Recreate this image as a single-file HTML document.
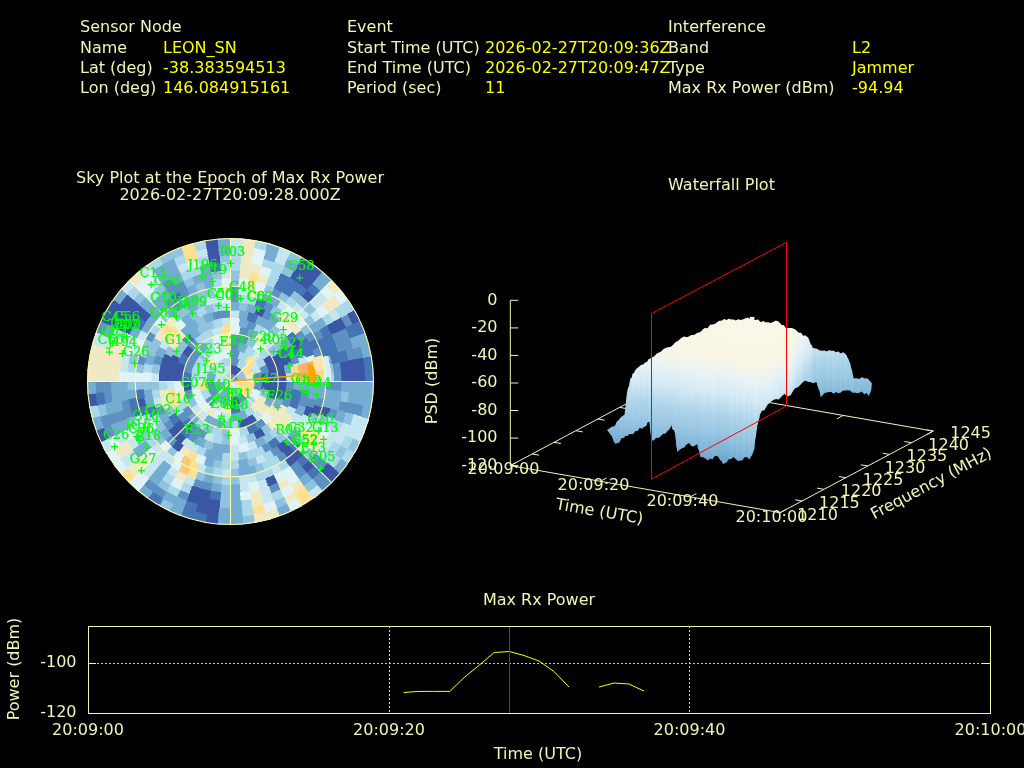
<!DOCTYPE html>
<html><head><meta charset="utf-8"><title>Interference Event</title>
<style>
html,body{margin:0;padding:0;background:#000;overflow:hidden}
svg{display:block;will-change:transform}
text{font-family:"DejaVu Sans","Liberation Sans",sans-serif;font-size:16px;fill:#f4f4b2}
.y{fill:#ffff00}
.s{font-family:"DejaVu Serif","Liberation Serif",serif;font-size:12px;fill:#00ff00;stroke:#00ff00;stroke-width:0.2px}
.ln{stroke:#f4f4b2;stroke-width:1;fill:none;shape-rendering:crispEdges}
.la{stroke:#f4f4b2;stroke-width:1;fill:none}
</style></head><body>
<svg width="1024" height="768" viewBox="0 0 1024 768">
<rect width="1024" height="768" fill="#000"/>

<g id="header">
<text x="80" y="32">Sensor Node</text>
<text class="y" x="163" y="53">LEON_SN</text>
<text x="80" y="53">Name</text>
<text class="y" x="163" y="73">-38.383594513</text>
<text x="80" y="73">Lat (deg)</text>
<text class="y" x="163" y="93">146.084915161</text>
<text x="80" y="93">Lon (deg)</text>
<text x="347" y="32">Event</text>
<text class="y" x="485" y="53">2026-02-27T20:09:36Z</text>
<text x="347" y="53">Start Time (UTC)</text>
<text class="y" x="485" y="73">2026-02-27T20:09:47Z</text>
<text x="347" y="73">End Time (UTC)</text>
<text class="y" x="485" y="93">11</text>
<text x="347" y="93">Period (sec)</text>
<text x="668" y="32">Interference</text>
<text class="y" x="852" y="53">L2</text>
<text x="668" y="53">Band</text>
<text class="y" x="852" y="73">Jammer</text>
<text x="668" y="73">Type</text>
<text class="y" x="852" y="93">-94.94</text>
<text x="668" y="93">Max Rx Power (dBm)</text>
</g>
<g id="sky">
<text x="230" y="183" text-anchor="middle">Sky Plot at the Epoch of Max Rx Power</text>
<text x="230" y="200" text-anchor="middle">2026-02-27T20:09:28.000Z</text>
<g shape-rendering="crispEdges">
<path fill="#5c91c2" stroke="#5c91c2" stroke-width="0.6" d="M230.5 381.5L230.5 373.6A7.9 7.9 0 0 1 238.4 381.5ZM230.5 365.6L230.5 357.7A23.8 23.8 0 0 1 239.6 359.5L236.6 366.8A15.9 15.9 0 0 0 230.5 365.6ZM241.7 392.7L247.4 398.4A23.8 23.8 0 0 1 239.6 403.5L236.6 396.2A15.9 15.9 0 0 0 241.7 392.7ZM219.3 392.7L213.6 398.4A23.8 23.8 0 0 1 208.5 390.6L215.8 387.6A15.9 15.9 0 0 0 219.3 392.7ZM215.8 387.6L208.5 390.6A23.8 23.8 0 0 1 206.7 381.5L214.6 381.5A15.9 15.9 0 0 0 215.8 387.6ZM230.5 357.7L230.5 349.7A31.8 31.8 0 0 1 240.3 351.3L237.9 358.8A23.8 23.8 0 0 0 230.5 357.7ZM253.2 374.1L260.7 371.7A31.8 31.8 0 0 1 262.3 381.5L254.3 381.5A23.8 23.8 0 0 0 253.2 374.1ZM254.3 381.5L262.3 381.5A31.8 31.8 0 0 1 260.7 391.3L253.2 388.9A23.8 23.8 0 0 0 254.3 381.5ZM216.5 400.8L211.8 407.2A31.8 31.8 0 0 1 204.8 400.2L211.2 395.5A23.8 23.8 0 0 0 216.5 400.8ZM230.5 349.7L230.5 341.8A39.7 39.7 0 0 1 239.3 342.8L237.6 350.5A31.8 31.8 0 0 0 230.5 349.7ZM259.1 367.7L266.3 364.3A39.7 39.7 0 0 1 269.2 372.7L261.5 374.4A31.8 31.8 0 0 0 259.1 367.7ZM230.5 341.8L230.5 333.8A47.7 47.7 0 0 1 239.8 334.7L238.2 342.5A39.7 39.7 0 0 0 230.5 341.8ZM238.2 342.5L239.8 334.7A47.7 47.7 0 0 1 248.7 337.5L245.7 344.8A39.7 39.7 0 0 0 238.2 342.5ZM193.8 396.7L186.5 399.7A47.7 47.7 0 0 1 183.7 390.8L191.5 389.2A39.7 39.7 0 0 0 193.8 396.7ZM191.5 373.8L183.7 372.2A47.7 47.7 0 0 1 186.5 363.3L193.8 366.3A39.7 39.7 0 0 0 191.5 373.8ZM193.8 366.3L186.5 363.3A47.7 47.7 0 0 1 190.9 355.0L197.5 359.4A39.7 39.7 0 0 0 193.8 366.3ZM197.5 359.4L190.9 355.0A47.7 47.7 0 0 1 196.8 347.8L202.4 353.4A39.7 39.7 0 0 0 197.5 359.4ZM238.8 334.6L240.2 326.7A55.6 55.6 0 0 1 249.5 329.2L246.8 336.7A47.7 47.7 0 0 0 238.8 334.6ZM261.1 418.0L266.2 424.1A55.6 55.6 0 0 1 258.3 429.7L254.3 422.8A47.7 47.7 0 0 0 261.1 418.0ZM194.0 412.1L187.9 417.2A55.6 55.6 0 0 1 182.3 409.3L189.2 405.3A47.7 47.7 0 0 0 194.0 412.1ZM194.0 350.9L187.9 345.8A55.6 55.6 0 0 1 194.8 338.9L199.9 345.0A47.7 47.7 0 0 0 194.0 350.9ZM246.2 328.1L248.4 320.5A63.6 63.6 0 0 1 256.9 323.7L253.6 330.9A55.6 55.6 0 0 0 246.2 328.1ZM286.1 381.5L294.1 381.5A63.6 63.6 0 0 1 293.4 390.5L285.5 389.4A55.6 55.6 0 0 0 286.1 381.5ZM283.9 397.2L291.5 399.4A63.6 63.6 0 0 1 288.3 407.9L281.1 404.6A55.6 55.6 0 0 0 283.9 397.2ZM207.4 432.1L204.1 439.3A63.6 63.6 0 0 1 196.1 435.0L200.4 428.3A55.6 55.6 0 0 0 207.4 432.1ZM200.4 428.3L196.1 435.0A63.6 63.6 0 0 1 188.9 429.5L194.1 423.5A55.6 55.6 0 0 0 200.4 428.3ZM188.5 417.9L182.5 423.1A63.6 63.6 0 0 1 177.0 415.9L183.7 411.6A55.6 55.6 0 0 0 188.5 417.9ZM289.2 357.2L296.6 354.1A71.5 71.5 0 0 1 299.6 363.0L291.9 365.1A63.6 63.6 0 0 0 289.2 357.2ZM198.7 436.5L194.8 443.4A71.5 71.5 0 0 1 187.0 438.2L191.8 431.9A63.6 63.6 0 0 0 198.7 436.5ZM214.1 320.1L212.0 312.4A71.5 71.5 0 0 1 221.2 310.6L222.2 318.5A63.6 63.6 0 0 0 214.1 320.1ZM222.2 318.5L221.2 310.6A71.5 71.5 0 0 1 230.5 310.0L230.5 317.9A63.6 63.6 0 0 0 222.2 318.5ZM261.5 317.1L265.0 309.9A79.4 79.4 0 0 1 272.8 314.2L268.5 321.0A71.5 71.5 0 0 0 261.5 317.1ZM301.6 389.5L309.4 390.4A79.4 79.4 0 0 1 308.0 399.2L300.2 397.4A71.5 71.5 0 0 0 301.6 389.5ZM300.2 397.4L308.0 399.2A79.4 79.4 0 0 1 305.5 407.7L298.0 405.1A71.5 71.5 0 0 0 300.2 397.4ZM268.5 442.0L272.8 448.8A79.4 79.4 0 0 1 265.0 453.1L261.5 445.9A71.5 71.5 0 0 0 268.5 442.0ZM174.6 426.1L168.4 431.0A79.4 79.4 0 0 1 163.2 423.8L170.0 419.5A71.5 71.5 0 0 0 174.6 426.1ZM166.1 412.5L158.9 416.0A79.4 79.4 0 0 1 155.5 407.7L163.0 405.1A71.5 71.5 0 0 0 166.1 412.5ZM160.8 365.6L153.0 363.8A79.4 79.4 0 0 1 155.5 355.3L163.0 357.9A71.5 71.5 0 0 0 160.8 365.6ZM230.5 302.1L230.5 294.1A87.4 87.4 0 0 1 239.6 294.6L238.8 302.5A79.4 79.4 0 0 0 230.5 302.1ZM262.8 308.9L266.0 301.7A87.4 87.4 0 0 1 274.2 305.8L270.2 312.7A79.4 79.4 0 0 0 262.8 308.9ZM294.8 334.8L301.2 330.1A87.4 87.4 0 0 1 306.2 337.8L299.3 341.8A79.4 79.4 0 0 0 294.8 334.8ZM308.2 398.0L316.0 399.7A87.4 87.4 0 0 1 313.6 408.5L306.1 406.0A79.4 79.4 0 0 0 308.2 398.0ZM289.5 434.7L295.4 440.0A87.4 87.4 0 0 1 289.0 446.4L283.7 440.5A79.4 79.4 0 0 0 289.5 434.7ZM277.2 445.8L281.9 452.2A87.4 87.4 0 0 1 274.2 457.2L270.2 450.3A79.4 79.4 0 0 0 277.2 445.8ZM177.3 440.5L172.0 446.4A87.4 87.4 0 0 1 165.6 440.0L171.5 434.7A79.4 79.4 0 0 0 177.3 440.5ZM230.5 294.1L230.5 286.2A95.3 95.3 0 0 1 239.3 286.6L238.6 294.5A87.4 87.4 0 0 0 230.5 294.1ZM304.8 335.5L311.6 331.3A95.3 95.3 0 0 1 315.8 339.0L308.7 342.5A87.4 87.4 0 0 0 304.8 335.5ZM312.0 349.9L319.4 347.1A95.3 95.3 0 0 1 322.2 355.4L314.6 357.6A87.4 87.4 0 0 0 312.0 349.9ZM316.4 397.6L324.2 399.0A95.3 95.3 0 0 1 322.2 407.6L314.6 405.4A87.4 87.4 0 0 0 316.4 397.6ZM283.2 451.2L288.0 457.6A95.3 95.3 0 0 1 280.7 462.6L276.5 455.8A87.4 87.4 0 0 0 283.2 451.2ZM144.6 365.4L136.8 364.0A95.3 95.3 0 0 1 138.8 355.4L146.4 357.6A87.4 87.4 0 0 0 144.6 365.4ZM152.3 342.5L145.2 339.0A95.3 95.3 0 0 1 149.4 331.3L156.2 335.5A87.4 87.4 0 0 0 152.3 342.5ZM177.8 311.8L173.0 305.4A95.3 95.3 0 0 1 180.3 300.4L184.5 307.2A87.4 87.4 0 0 0 177.8 311.8ZM270.8 295.1L274.1 287.9A103.3 103.3 0 0 1 282.1 292.1L278.2 298.9A95.3 95.3 0 0 0 270.8 295.1ZM313.1 333.8L319.9 329.9A103.3 103.3 0 0 1 324.1 337.9L316.9 341.2A95.3 95.3 0 0 0 313.1 333.8ZM325.8 381.5L333.8 381.5A103.3 103.3 0 0 1 333.4 390.5L325.5 389.8A95.3 95.3 0 0 0 325.8 381.5ZM169.2 308.5L164.1 302.4A103.3 103.3 0 0 1 171.3 296.9L175.8 303.4A95.3 95.3 0 0 0 169.2 308.5ZM182.8 298.9L178.9 292.1A103.3 103.3 0 0 1 186.9 287.9L190.2 295.1A95.3 95.3 0 0 0 182.8 298.9ZM332.2 363.6L340.0 362.2A111.2 111.2 0 0 1 341.3 371.8L333.4 372.5A103.3 103.3 0 0 0 332.2 363.6ZM333.4 372.5L341.3 371.8A111.2 111.2 0 0 1 341.7 381.5L333.8 381.5A103.3 103.3 0 0 0 333.4 372.5ZM333.8 381.5L341.7 381.5A111.2 111.2 0 0 1 341.3 391.2L333.4 390.5A103.3 103.3 0 0 0 333.8 381.5ZM330.3 408.2L337.9 410.3A111.2 111.2 0 0 1 335.0 419.5L327.5 416.8A103.3 103.3 0 0 0 330.3 408.2ZM296.9 460.6L302.0 466.7A111.2 111.2 0 0 1 294.3 472.6L289.7 466.1A103.3 103.3 0 0 0 296.9 460.6ZM212.6 483.2L211.2 491.0A111.2 111.2 0 0 1 201.7 488.9L203.8 481.3A103.3 103.3 0 0 0 212.6 483.2ZM203.8 481.3L201.7 488.9A111.2 111.2 0 0 1 192.5 486.0L195.2 478.5A103.3 103.3 0 0 0 203.8 481.3ZM133.5 416.8L126.0 419.5A111.2 111.2 0 0 1 123.1 410.3L130.7 408.2A103.3 103.3 0 0 0 133.5 416.8ZM130.7 408.2L123.1 410.3A111.2 111.2 0 0 1 121.0 400.8L128.8 399.4A103.3 103.3 0 0 0 130.7 408.2ZM171.3 296.9L166.7 290.4A111.2 111.2 0 0 1 174.9 285.2L178.9 292.1A103.3 103.3 0 0 0 171.3 296.9ZM178.9 292.1L174.9 285.2A111.2 111.2 0 0 1 183.5 280.7L186.9 287.9A103.3 103.3 0 0 0 178.9 292.1ZM331.3 334.5L338.5 331.1A119.2 119.2 0 0 1 342.5 340.7L335.0 343.5A111.2 111.2 0 0 0 331.3 334.5ZM335.0 343.5L342.5 340.7A119.2 119.2 0 0 1 345.6 350.7L337.9 352.7A111.2 111.2 0 0 0 335.0 343.5ZM340.0 400.8L347.9 402.2A119.2 119.2 0 0 1 345.6 412.3L337.9 410.3A111.2 111.2 0 0 0 340.0 400.8ZM315.7 453.0L321.8 458.1A119.2 119.2 0 0 1 314.8 465.8L309.1 460.1A111.2 111.2 0 0 0 315.7 453.0ZM302.0 466.7L307.1 472.8A119.2 119.2 0 0 1 298.9 479.1L294.3 472.6A111.2 111.2 0 0 0 302.0 466.7ZM277.5 482.3L280.9 489.5A119.2 119.2 0 0 1 271.3 493.5L268.5 486.0A111.2 111.2 0 0 0 277.5 482.3ZM126.0 419.5L118.5 422.3A119.2 119.2 0 0 1 115.4 412.3L123.1 410.3A111.2 111.2 0 0 0 126.0 419.5ZM166.7 290.4L162.1 283.9A119.2 119.2 0 0 1 170.9 278.3L174.9 285.2A111.2 111.2 0 0 0 166.7 290.4ZM338.5 331.1L345.7 327.8A127.1 127.1 0 0 1 349.9 338.0L342.5 340.7A119.2 119.2 0 0 0 338.5 331.1ZM342.5 340.7L349.9 338.0A127.1 127.1 0 0 1 353.3 348.6L345.6 350.7A119.2 119.2 0 0 0 342.5 340.7ZM345.6 350.7L353.3 348.6A127.1 127.1 0 0 1 355.7 359.4L347.9 360.8A119.2 119.2 0 0 0 345.6 350.7ZM347.9 402.2L355.7 403.6A127.1 127.1 0 0 1 353.3 414.4L345.6 412.3A119.2 119.2 0 0 0 347.9 402.2ZM321.8 458.1L327.9 463.2A127.1 127.1 0 0 1 320.4 471.4L314.8 465.8A119.2 119.2 0 0 0 321.8 458.1ZM189.7 493.5L187.0 500.9A127.1 127.1 0 0 1 176.8 496.7L180.1 489.5A119.2 119.2 0 0 0 189.7 493.5ZM118.5 422.3L111.1 425.0A127.1 127.1 0 0 1 107.7 414.4L115.4 412.3A119.2 119.2 0 0 0 118.5 422.3ZM113.1 402.2L105.3 403.6A127.1 127.1 0 0 1 103.9 392.6L111.8 391.9A119.2 119.2 0 0 0 113.1 402.2ZM111.8 391.9L103.9 392.6A127.1 127.1 0 0 1 103.4 381.5L111.3 381.5A119.2 119.2 0 0 0 111.8 391.9ZM340.6 317.9L347.5 314.0A135.1 135.1 0 0 1 352.9 324.4L345.7 327.8A127.1 127.1 0 0 0 340.6 317.9ZM353.3 348.6L361.0 346.5A135.1 135.1 0 0 1 363.5 358.0L355.7 359.4A127.1 127.1 0 0 0 353.3 348.6ZM355.7 403.6L363.5 405.0A135.1 135.1 0 0 1 361.0 416.5L353.3 414.4A127.1 127.1 0 0 0 355.7 403.6ZM320.4 471.4L326.0 477.0A135.1 135.1 0 0 1 317.3 485.0L312.2 478.9A127.1 127.1 0 0 0 320.4 471.4ZM166.9 491.6L163.0 498.5A135.1 135.1 0 0 1 153.0 492.1L157.6 485.6A127.1 127.1 0 0 0 166.9 491.6ZM157.6 485.6L153.0 492.1A135.1 135.1 0 0 1 143.7 485.0L148.8 478.9A127.1 127.1 0 0 0 157.6 485.6ZM115.3 435.2L108.1 438.6A135.1 135.1 0 0 1 103.6 427.7L111.1 425.0A127.1 127.1 0 0 0 115.3 435.2ZM111.1 425.0L103.6 427.7A135.1 135.1 0 0 1 100.0 416.5L107.7 414.4A127.1 127.1 0 0 0 111.1 425.0ZM103.9 392.6L96.0 393.3A135.1 135.1 0 0 1 95.4 381.5L103.4 381.5A127.1 127.1 0 0 0 103.9 392.6ZM326.0 477.0L331.6 482.6A143.0 143.0 0 0 1 322.4 491.0L317.3 485.0A135.1 135.1 0 0 0 326.0 477.0ZM103.6 335.3L96.1 332.6A143.0 143.0 0 0 1 100.9 321.1L108.1 324.4A135.1 135.1 0 0 0 103.6 335.3Z"/>
<path fill="#c6e6f0" stroke="#c6e6f0" stroke-width="0.6" d="M230.5 381.5L238.4 381.5A7.9 7.9 0 0 1 230.5 389.4ZM222.6 381.5L214.6 381.5A15.9 15.9 0 0 1 219.3 370.3L224.9 375.9A7.9 7.9 0 0 0 222.6 381.5ZM224.9 375.9L219.3 370.3A15.9 15.9 0 0 1 230.5 365.6L230.5 373.6A7.9 7.9 0 0 0 224.9 375.9ZM219.3 370.3L213.6 364.6A23.8 23.8 0 0 1 221.4 359.5L224.4 366.8A15.9 15.9 0 0 0 219.3 370.3ZM249.8 367.5L256.2 362.8A31.8 31.8 0 0 1 260.7 371.7L253.2 374.1A23.8 23.8 0 0 0 249.8 367.5ZM223.1 404.2L220.7 411.7A31.8 31.8 0 0 1 211.8 407.2L216.5 400.8A23.8 23.8 0 0 0 223.1 404.2ZM206.7 381.5L198.7 381.5A31.8 31.8 0 0 1 200.3 371.7L207.8 374.1A23.8 23.8 0 0 0 206.7 381.5ZM207.8 374.1L200.3 371.7A31.8 31.8 0 0 1 204.8 362.8L211.2 367.5A23.8 23.8 0 0 0 207.8 374.1ZM250.3 356.7L255.3 350.4A39.7 39.7 0 0 1 261.6 356.7L255.3 361.7A31.8 31.8 0 0 0 250.3 356.7ZM230.5 413.3L230.5 421.2A39.7 39.7 0 0 1 221.7 420.2L223.4 412.5A31.8 31.8 0 0 0 230.5 413.3ZM199.5 388.6L191.8 390.3A39.7 39.7 0 0 1 190.8 381.5L198.7 381.5A31.8 31.8 0 0 0 199.5 388.6ZM258.6 409.6L264.2 415.2A47.7 47.7 0 0 1 257.0 421.1L252.6 414.5A39.7 39.7 0 0 0 258.6 409.6ZM208.4 414.5L204.0 421.1A47.7 47.7 0 0 1 196.8 415.2L202.4 409.6A39.7 39.7 0 0 0 208.4 414.5ZM202.4 409.6L196.8 415.2A47.7 47.7 0 0 1 190.9 408.0L197.5 403.6A39.7 39.7 0 0 0 202.4 409.6ZM261.1 345.0L266.2 338.9A55.6 55.6 0 0 1 273.1 345.8L267.0 350.9A47.7 47.7 0 0 0 261.1 345.0ZM214.2 336.7L211.5 329.2A55.6 55.6 0 0 1 220.8 326.7L222.2 334.6A47.7 47.7 0 0 0 214.2 336.7ZM260.6 334.7L264.9 328.0A63.6 63.6 0 0 1 272.1 333.5L266.9 339.5A55.6 55.6 0 0 0 260.6 334.7ZM285.5 373.6L293.4 372.5A63.6 63.6 0 0 1 294.1 381.5L286.1 381.5A55.6 55.6 0 0 0 285.5 373.6ZM246.2 434.9L248.4 442.5A63.6 63.6 0 0 1 239.5 444.4L238.4 436.5A55.6 55.6 0 0 0 246.2 434.9ZM214.8 434.9L212.6 442.5A63.6 63.6 0 0 1 204.1 439.3L207.4 432.1A55.6 55.6 0 0 0 214.8 434.9ZM175.5 389.4L167.6 390.5A63.6 63.6 0 0 1 166.9 381.5L174.9 381.5A55.6 55.6 0 0 0 175.5 389.4ZM222.6 326.5L221.5 318.6A63.6 63.6 0 0 1 230.5 317.9L230.5 325.9A55.6 55.6 0 0 0 222.6 326.5ZM230.5 317.9L230.5 310.0A71.5 71.5 0 0 1 239.8 310.6L238.8 318.5A63.6 63.6 0 0 0 230.5 317.9ZM291.9 365.1L299.6 363.0A71.5 71.5 0 0 1 301.4 372.2L293.5 373.2A63.6 63.6 0 0 0 291.9 365.1ZM289.2 405.8L296.6 408.9A71.5 71.5 0 0 1 292.4 417.2L285.5 413.3A63.6 63.6 0 0 0 289.2 405.8ZM254.8 440.2L257.9 447.6A71.5 71.5 0 0 1 249.0 450.6L246.9 442.9A63.6 63.6 0 0 0 254.8 440.2ZM238.8 444.5L239.8 452.4A71.5 71.5 0 0 1 230.5 453.0L230.5 445.1A63.6 63.6 0 0 0 238.8 444.5ZM298.0 357.9L305.5 355.3A79.4 79.4 0 0 1 308.0 363.8L300.2 365.6A71.5 71.5 0 0 0 298.0 357.9ZM294.9 412.5L302.1 416.0A79.4 79.4 0 0 1 297.8 423.8L291.0 419.5A71.5 71.5 0 0 0 294.9 412.5ZM238.5 452.6L239.4 460.4A79.4 79.4 0 0 1 230.5 460.9L230.5 453.0A71.5 71.5 0 0 0 238.5 452.6ZM199.5 445.9L196.0 453.1A79.4 79.4 0 0 1 188.2 448.8L192.5 442.0A71.5 71.5 0 0 0 199.5 445.9ZM192.5 442.0L188.2 448.8A79.4 79.4 0 0 1 181.0 443.6L185.9 437.4A71.5 71.5 0 0 0 192.5 442.0ZM163.0 405.1L155.5 407.7A79.4 79.4 0 0 1 153.0 399.2L160.8 397.4A71.5 71.5 0 0 0 163.0 405.1ZM159.0 381.5L151.1 381.5A79.4 79.4 0 0 1 151.6 372.6L159.4 373.5A71.5 71.5 0 0 0 159.0 381.5ZM166.1 350.5L158.9 347.0A79.4 79.4 0 0 1 163.2 339.2L170.0 343.5A71.5 71.5 0 0 0 166.1 350.5ZM222.5 310.4L221.6 302.6A79.4 79.4 0 0 1 230.5 302.1L230.5 310.0A71.5 71.5 0 0 0 222.5 310.4ZM303.1 413.8L310.3 417.0A87.4 87.4 0 0 1 306.2 425.2L299.3 421.2A79.4 79.4 0 0 0 303.1 413.8ZM262.8 454.1L266.0 461.3A87.4 87.4 0 0 1 257.5 464.6L255.0 457.1A79.4 79.4 0 0 0 262.8 454.1ZM206.0 305.9L203.5 298.4A87.4 87.4 0 0 1 212.3 296.0L214.0 303.8A79.4 79.4 0 0 0 206.0 305.9ZM214.0 303.8L212.3 296.0A87.4 87.4 0 0 1 221.4 294.6L222.2 302.5A79.4 79.4 0 0 0 214.0 303.8ZM238.6 294.5L239.3 286.6A95.3 95.3 0 0 1 248.0 287.8L246.6 295.6A87.4 87.4 0 0 0 238.6 294.5ZM254.4 297.4L256.6 289.8A95.3 95.3 0 0 1 264.9 292.6L262.1 300.0A87.4 87.4 0 0 0 254.4 297.4ZM276.5 307.2L280.7 300.4A95.3 95.3 0 0 1 288.0 305.4L283.2 311.8A87.4 87.4 0 0 0 276.5 307.2ZM314.6 357.6L322.2 355.4A95.3 95.3 0 0 1 324.2 364.0L316.4 365.4A87.4 87.4 0 0 0 314.6 357.6ZM230.5 468.9L230.5 476.8A95.3 95.3 0 0 1 221.7 476.4L222.4 468.5A87.4 87.4 0 0 0 230.5 468.9ZM206.6 465.6L204.4 473.2A95.3 95.3 0 0 1 196.1 470.4L198.9 463.0A87.4 87.4 0 0 0 206.6 465.6ZM214.4 295.6L213.0 287.8A95.3 95.3 0 0 1 221.7 286.6L222.4 294.5A87.4 87.4 0 0 0 214.4 295.6ZM291.8 308.5L296.9 302.4A103.3 103.3 0 0 1 303.5 308.5L297.9 314.1A95.3 95.3 0 0 0 291.8 308.5ZM297.9 314.1L303.5 308.5A103.3 103.3 0 0 1 309.6 315.1L303.5 320.2A95.3 95.3 0 0 0 297.9 314.1ZM316.9 421.8L324.1 425.1A103.3 103.3 0 0 1 319.9 433.1L313.1 429.2A95.3 95.3 0 0 0 316.9 421.8ZM303.5 442.8L309.6 447.9A103.3 103.3 0 0 1 303.5 454.5L297.9 448.9A95.3 95.3 0 0 0 303.5 442.8ZM278.2 464.1L282.1 470.9A103.3 103.3 0 0 1 274.1 475.1L270.8 467.9A95.3 95.3 0 0 0 278.2 464.1ZM255.2 473.6L257.2 481.3A103.3 103.3 0 0 1 248.4 483.2L247.1 475.4A95.3 95.3 0 0 0 255.2 473.6ZM247.1 475.4L248.4 483.2A103.3 103.3 0 0 1 239.5 484.4L238.8 476.5A95.3 95.3 0 0 0 247.1 475.4ZM175.8 459.6L171.3 466.1A103.3 103.3 0 0 1 164.1 460.6L169.2 454.5A95.3 95.3 0 0 0 175.8 459.6ZM169.2 454.5L164.1 460.6A103.3 103.3 0 0 1 157.5 454.5L163.1 448.9A95.3 95.3 0 0 0 169.2 454.5ZM163.1 448.9L157.5 454.5A103.3 103.3 0 0 1 151.4 447.9L157.5 442.8A95.3 95.3 0 0 0 163.1 448.9ZM147.9 429.2L141.1 433.1A103.3 103.3 0 0 1 136.9 425.1L144.1 421.8A95.3 95.3 0 0 0 147.9 429.2ZM144.1 421.8L136.9 425.1A103.3 103.3 0 0 1 133.5 416.8L140.9 414.1A95.3 95.3 0 0 0 144.1 421.8ZM138.4 356.8L130.7 354.8A103.3 103.3 0 0 1 133.5 346.2L140.9 348.9A95.3 95.3 0 0 0 138.4 356.8ZM144.1 341.2L136.9 337.9A103.3 103.3 0 0 1 141.1 329.9L147.9 333.8A95.3 95.3 0 0 0 144.1 341.2ZM309.6 315.1L315.7 310.0A111.2 111.2 0 0 1 321.6 317.7L315.1 322.3A103.3 103.3 0 0 0 309.6 315.1ZM265.8 478.5L268.5 486.0A111.2 111.2 0 0 1 259.3 488.9L257.2 481.3A103.3 103.3 0 0 0 265.8 478.5ZM248.4 483.2L249.8 491.0A111.2 111.2 0 0 1 240.2 492.3L239.5 484.4A103.3 103.3 0 0 0 248.4 483.2ZM195.2 478.5L192.5 486.0A111.2 111.2 0 0 1 183.5 482.3L186.9 475.1A103.3 103.3 0 0 0 195.2 478.5ZM178.9 470.9L174.9 477.8A111.2 111.2 0 0 1 166.7 472.6L171.3 466.1A103.3 103.3 0 0 0 178.9 470.9ZM164.1 460.6L159.0 466.7A111.2 111.2 0 0 1 151.9 460.1L157.5 454.5A103.3 103.3 0 0 0 164.1 460.6ZM141.1 433.1L134.2 437.1A111.2 111.2 0 0 1 129.7 428.5L136.9 425.1A103.3 103.3 0 0 0 141.1 433.1ZM127.6 372.5L119.7 371.8A111.2 111.2 0 0 1 121.0 362.2L128.8 363.6A103.3 103.3 0 0 0 127.6 372.5ZM128.8 363.6L121.0 362.2A111.2 111.2 0 0 1 123.1 352.7L130.7 354.8A103.3 103.3 0 0 0 128.8 363.6ZM133.5 346.2L126.0 343.5A111.2 111.2 0 0 1 129.7 334.5L136.9 337.9A103.3 103.3 0 0 0 133.5 346.2ZM221.5 278.6L220.8 270.7A111.2 111.2 0 0 1 230.5 270.3L230.5 278.2A103.3 103.3 0 0 0 221.5 278.6ZM309.1 302.9L314.8 297.2A119.2 119.2 0 0 1 321.8 304.9L315.7 310.0A111.2 111.2 0 0 0 309.1 302.9ZM331.3 428.5L338.5 431.9A119.2 119.2 0 0 1 333.7 441.1L326.8 437.1A111.2 111.2 0 0 0 331.3 428.5ZM326.8 437.1L333.7 441.1A119.2 119.2 0 0 1 328.1 449.9L321.6 445.3A111.2 111.2 0 0 0 326.8 437.1ZM321.6 445.3L328.1 449.9A119.2 119.2 0 0 1 321.8 458.1L315.7 453.0A111.2 111.2 0 0 0 321.6 445.3ZM268.5 486.0L271.3 493.5A119.2 119.2 0 0 1 261.3 496.6L259.3 488.9A111.2 111.2 0 0 0 268.5 486.0ZM159.0 466.7L153.9 472.8A119.2 119.2 0 0 1 146.2 465.8L151.9 460.1A111.2 111.2 0 0 0 159.0 466.7ZM139.4 445.3L132.9 449.9A119.2 119.2 0 0 1 127.3 441.1L134.2 437.1A111.2 111.2 0 0 0 139.4 445.3ZM126.0 343.5L118.5 340.7A119.2 119.2 0 0 1 122.5 331.1L129.7 334.5A111.2 111.2 0 0 0 126.0 343.5ZM151.9 302.9L146.2 297.2A119.2 119.2 0 0 1 153.9 290.2L159.0 296.3A111.2 111.2 0 0 0 151.9 302.9ZM314.8 297.2L320.4 291.6A127.1 127.1 0 0 1 327.9 299.8L321.8 304.9A119.2 119.2 0 0 0 314.8 297.2ZM328.1 313.1L334.6 308.6A127.1 127.1 0 0 1 340.6 317.9L333.7 321.9A119.2 119.2 0 0 0 328.1 313.1ZM342.5 422.3L349.9 425.0A127.1 127.1 0 0 1 345.7 435.2L338.5 431.9A119.2 119.2 0 0 0 342.5 422.3ZM338.5 431.9L345.7 435.2A127.1 127.1 0 0 1 340.6 445.1L333.7 441.1A119.2 119.2 0 0 0 338.5 431.9ZM271.3 493.5L274.0 500.9A127.1 127.1 0 0 1 263.4 504.3L261.3 496.6A119.2 119.2 0 0 0 271.3 493.5ZM153.9 472.8L148.8 478.9A127.1 127.1 0 0 1 140.6 471.4L146.2 465.8A119.2 119.2 0 0 0 153.9 472.8ZM139.2 458.1L133.1 463.2A127.1 127.1 0 0 1 126.4 454.4L132.9 449.9A119.2 119.2 0 0 0 139.2 458.1ZM127.3 441.1L120.4 445.1A127.1 127.1 0 0 1 115.3 435.2L122.5 431.9A119.2 119.2 0 0 0 127.3 441.1ZM153.9 290.2L148.8 284.1A127.1 127.1 0 0 1 157.6 277.4L162.1 283.9A119.2 119.2 0 0 0 153.9 290.2ZM180.1 273.5L176.8 266.3A127.1 127.1 0 0 1 187.0 262.1L189.7 269.5A119.2 119.2 0 0 0 180.1 273.5ZM274.0 262.1L276.7 254.6A135.1 135.1 0 0 1 287.6 259.1L284.2 266.3A127.1 127.1 0 0 0 274.0 262.1ZM353.3 414.4L361.0 416.5A135.1 135.1 0 0 1 357.4 427.7L349.9 425.0A127.1 127.1 0 0 0 353.3 414.4ZM349.9 425.0L357.4 427.7A135.1 135.1 0 0 1 352.9 438.6L345.7 435.2A127.1 127.1 0 0 0 349.9 425.0ZM133.1 463.2L127.0 468.3A135.1 135.1 0 0 1 119.9 459.0L126.4 454.4A127.1 127.1 0 0 0 133.1 463.2ZM107.7 348.6L100.0 346.5A135.1 135.1 0 0 1 103.6 335.3L111.1 338.0A127.1 127.1 0 0 0 107.7 348.6ZM197.6 258.7L195.5 251.0A135.1 135.1 0 0 1 207.0 248.5L208.4 256.3A127.1 127.1 0 0 0 197.6 258.7ZM230.5 246.4L230.5 238.5A143.0 143.0 0 0 1 243.0 239.0L242.3 247.0A135.1 135.1 0 0 0 230.5 246.4ZM276.7 254.6L279.4 247.1A143.0 143.0 0 0 1 290.9 251.9L287.6 259.1A135.1 135.1 0 0 0 276.7 254.6ZM361.0 416.5L368.6 418.5A143.0 143.0 0 0 1 364.9 430.4L357.4 427.7A135.1 135.1 0 0 0 361.0 416.5ZM357.4 427.7L364.9 430.4A143.0 143.0 0 0 1 360.1 441.9L352.9 438.6A135.1 135.1 0 0 0 357.4 427.7ZM317.3 485.0L322.4 491.0A143.0 143.0 0 0 1 312.5 498.6L308.0 492.1A135.1 135.1 0 0 0 317.3 485.0ZM113.5 449.0L106.7 453.0A143.0 143.0 0 0 1 100.9 441.9L108.1 438.6A135.1 135.1 0 0 0 113.5 449.0ZM100.0 346.5L92.4 344.5A143.0 143.0 0 0 1 96.1 332.6L103.6 335.3A135.1 135.1 0 0 0 100.0 346.5ZM127.0 294.7L121.0 289.6A143.0 143.0 0 0 1 129.4 280.4L135.0 286.0A135.1 135.1 0 0 0 127.0 294.7ZM143.7 278.0L138.6 272.0A143.0 143.0 0 0 1 148.5 264.4L153.0 270.9A135.1 135.1 0 0 0 143.7 278.0Z"/>
<path fill="#90c3dd" stroke="#90c3dd" stroke-width="0.6" d="M230.5 381.5L230.5 389.4A7.9 7.9 0 0 1 222.6 381.5ZM236.1 375.9L241.7 370.3A15.9 15.9 0 0 1 246.4 381.5L238.4 381.5A7.9 7.9 0 0 0 236.1 375.9ZM236.1 387.1L241.7 392.7A15.9 15.9 0 0 1 230.5 397.4L230.5 389.4A7.9 7.9 0 0 0 236.1 387.1ZM244.5 400.8L249.2 407.2A31.8 31.8 0 0 1 240.3 411.7L237.9 404.2A23.8 23.8 0 0 0 244.5 400.8ZM261.5 388.6L269.2 390.3A39.7 39.7 0 0 1 266.3 398.7L259.1 395.3A31.8 31.8 0 0 0 261.5 388.6ZM205.7 361.7L199.4 356.7A39.7 39.7 0 0 1 205.7 350.4L210.7 356.7A31.8 31.8 0 0 0 205.7 361.7ZM245.7 344.8L248.7 337.5A47.7 47.7 0 0 1 257.0 341.9L252.6 348.5A39.7 39.7 0 0 0 245.7 344.8ZM230.5 421.2L230.5 429.2A47.7 47.7 0 0 1 221.2 428.3L222.8 420.5A39.7 39.7 0 0 0 230.5 421.2ZM197.5 403.6L190.9 408.0A47.7 47.7 0 0 1 186.5 399.7L193.8 396.7A39.7 39.7 0 0 0 197.5 403.6ZM267.0 350.9L273.1 345.8A55.6 55.6 0 0 1 278.7 353.7L271.8 357.7A47.7 47.7 0 0 0 267.0 350.9ZM230.5 429.2L230.5 437.1A55.6 55.6 0 0 1 220.8 436.3L222.2 428.4A47.7 47.7 0 0 0 230.5 429.2ZM214.2 426.3L211.5 433.8A55.6 55.6 0 0 1 202.7 429.7L206.7 422.8A47.7 47.7 0 0 0 214.2 426.3ZM272.5 345.1L278.5 339.9A63.6 63.6 0 0 1 284.0 347.1L277.3 351.4A55.6 55.6 0 0 0 272.5 345.1ZM266.9 423.5L272.1 429.5A63.6 63.6 0 0 1 264.9 435.0L260.6 428.3A55.6 55.6 0 0 0 266.9 423.5ZM253.6 432.1L256.9 439.3A63.6 63.6 0 0 1 248.4 442.5L246.2 434.9A55.6 55.6 0 0 0 253.6 432.1ZM230.5 437.1L230.5 445.1A63.6 63.6 0 0 1 221.5 444.4L222.6 436.5A55.6 55.6 0 0 0 230.5 437.1ZM179.9 358.4L172.7 355.1A63.6 63.6 0 0 1 177.0 347.1L183.7 351.4A55.6 55.6 0 0 0 179.9 358.4ZM183.7 351.4L177.0 347.1A63.6 63.6 0 0 1 182.5 339.9L188.5 345.1A55.6 55.6 0 0 0 183.7 351.4ZM200.4 334.7L196.1 328.0A63.6 63.6 0 0 1 204.1 323.7L207.4 330.9A55.6 55.6 0 0 0 200.4 334.7ZM207.4 330.9L204.1 323.7A63.6 63.6 0 0 1 212.6 320.5L214.8 328.1A55.6 55.6 0 0 0 207.4 330.9ZM269.2 331.1L274.0 324.8A71.5 71.5 0 0 1 281.1 330.9L275.4 336.6A63.6 63.6 0 0 0 269.2 331.1ZM269.2 431.9L274.0 438.2A71.5 71.5 0 0 1 266.2 443.4L262.3 436.5A63.6 63.6 0 0 0 269.2 431.9ZM214.1 442.9L212.0 450.6A71.5 71.5 0 0 1 203.1 447.6L206.2 440.2A63.6 63.6 0 0 0 214.1 442.9ZM175.5 413.3L168.6 417.2A71.5 71.5 0 0 1 164.4 408.9L171.8 405.8A63.6 63.6 0 0 0 175.5 413.3ZM171.8 357.2L164.4 354.1A71.5 71.5 0 0 1 168.6 345.8L175.5 349.7A63.6 63.6 0 0 0 171.8 357.2ZM198.7 326.5L194.7 319.6A71.5 71.5 0 0 1 203.1 315.4L206.2 322.8A63.6 63.6 0 0 0 198.7 326.5ZM238.5 310.4L239.4 302.6A79.4 79.4 0 0 1 248.2 304.0L246.4 311.8A71.5 71.5 0 0 0 238.5 310.4ZM281.1 432.1L286.7 437.7A79.4 79.4 0 0 1 280.0 443.6L275.1 437.4A71.5 71.5 0 0 0 281.1 432.1ZM246.4 451.2L248.2 459.0A79.4 79.4 0 0 1 239.4 460.4L238.5 452.6A71.5 71.5 0 0 0 246.4 451.2ZM159.4 389.5L151.6 390.4A79.4 79.4 0 0 1 151.1 381.5L159.0 381.5A71.5 71.5 0 0 0 159.4 389.5ZM159.4 373.5L151.6 372.6A79.4 79.4 0 0 1 153.0 363.8L160.8 365.6A71.5 71.5 0 0 0 159.4 373.5ZM192.5 321.0L188.2 314.2A79.4 79.4 0 0 1 196.0 309.9L199.5 317.1A71.5 71.5 0 0 0 192.5 321.0ZM206.9 314.0L204.3 306.5A79.4 79.4 0 0 1 212.8 304.0L214.6 311.8A71.5 71.5 0 0 0 206.9 314.0ZM270.2 312.7L274.2 305.8A87.4 87.4 0 0 1 281.9 310.8L277.2 317.2A79.4 79.4 0 0 0 270.2 312.7ZM255.0 457.1L257.5 464.6A87.4 87.4 0 0 1 248.7 467.0L247.0 459.2A79.4 79.4 0 0 0 255.0 457.1ZM222.2 460.5L221.4 468.4A87.4 87.4 0 0 1 212.3 467.0L214.0 459.2A79.4 79.4 0 0 0 222.2 460.5ZM166.2 428.2L159.8 432.9A87.4 87.4 0 0 1 154.8 425.2L161.7 421.2A79.4 79.4 0 0 0 166.2 428.2ZM151.5 389.8L143.6 390.6A87.4 87.4 0 0 1 143.1 381.5L151.1 381.5A79.4 79.4 0 0 0 151.5 389.8ZM154.9 357.0L147.4 354.5A87.4 87.4 0 0 1 150.7 346.0L157.9 349.2A79.4 79.4 0 0 0 154.9 357.0ZM157.9 349.2L150.7 346.0A87.4 87.4 0 0 1 154.8 337.8L161.7 341.8A79.4 79.4 0 0 0 157.9 349.2ZM177.3 322.5L172.0 316.6A87.4 87.4 0 0 1 179.1 310.8L183.8 317.2A79.4 79.4 0 0 0 177.3 322.5ZM183.8 317.2L179.1 310.8A87.4 87.4 0 0 1 186.8 305.8L190.8 312.7A79.4 79.4 0 0 0 183.8 317.2ZM198.2 308.9L195.0 301.7A87.4 87.4 0 0 1 203.5 298.4L206.0 305.9A79.4 79.4 0 0 0 198.2 308.9ZM300.2 328.8L306.6 324.0A95.3 95.3 0 0 1 311.6 331.3L304.8 335.5A87.4 87.4 0 0 0 300.2 328.8ZM312.0 413.1L319.4 415.9A95.3 95.3 0 0 1 315.8 424.0L308.7 420.5A87.4 87.4 0 0 0 312.0 413.1ZM262.1 463.0L264.9 470.4A95.3 95.3 0 0 1 256.6 473.2L254.4 465.6A87.4 87.4 0 0 0 262.1 463.0ZM238.6 468.5L239.3 476.4A95.3 95.3 0 0 1 230.5 476.8L230.5 468.9A87.4 87.4 0 0 0 238.6 468.5ZM214.4 467.4L213.0 475.2A95.3 95.3 0 0 1 204.4 473.2L206.6 465.6A87.4 87.4 0 0 0 214.4 467.4ZM177.8 451.2L173.0 457.6A95.3 95.3 0 0 1 166.3 452.0L171.6 446.1A87.4 87.4 0 0 0 177.8 451.2ZM165.9 440.4L160.0 445.7A95.3 95.3 0 0 1 154.4 439.0L160.8 434.2A87.4 87.4 0 0 0 165.9 440.4ZM160.8 434.2L154.4 439.0A95.3 95.3 0 0 1 149.4 431.7L156.2 427.5A87.4 87.4 0 0 0 160.8 434.2ZM143.5 389.6L135.6 390.3A95.3 95.3 0 0 1 135.2 381.5L143.1 381.5A87.4 87.4 0 0 0 143.5 389.6ZM143.5 373.4L135.6 372.7A95.3 95.3 0 0 1 136.8 364.0L144.6 365.4A87.4 87.4 0 0 0 143.5 373.4ZM149.0 349.9L141.6 347.1A95.3 95.3 0 0 1 145.2 339.0L152.3 342.5A87.4 87.4 0 0 0 149.0 349.9ZM165.9 322.6L160.0 317.3A95.3 95.3 0 0 1 166.3 311.0L171.6 316.9A87.4 87.4 0 0 0 165.9 322.6ZM198.9 300.0L196.1 292.6A95.3 95.3 0 0 1 204.4 289.8L206.6 297.4A87.4 87.4 0 0 0 198.9 300.0ZM206.6 297.4L204.4 289.8A95.3 95.3 0 0 1 213.0 287.8L214.4 295.6A87.4 87.4 0 0 0 206.6 297.4ZM230.5 286.2L230.5 278.2A103.3 103.3 0 0 1 239.5 278.6L238.8 286.5A95.3 95.3 0 0 0 230.5 286.2ZM263.1 291.9L265.8 284.5A103.3 103.3 0 0 1 274.1 287.9L270.8 295.1A95.3 95.3 0 0 0 263.1 291.9ZM278.2 298.9L282.1 292.1A103.3 103.3 0 0 1 289.7 296.9L285.2 303.4A95.3 95.3 0 0 0 278.2 298.9ZM303.5 320.2L309.6 315.1A103.3 103.3 0 0 1 315.1 322.3L308.6 326.8A95.3 95.3 0 0 0 303.5 320.2ZM324.4 364.9L332.2 363.6A103.3 103.3 0 0 1 333.4 372.5L325.5 373.2A95.3 95.3 0 0 0 324.4 364.9ZM320.1 414.1L327.5 416.8A103.3 103.3 0 0 1 324.1 425.1L316.9 421.8A95.3 95.3 0 0 0 320.1 414.1ZM238.8 476.5L239.5 484.4A103.3 103.3 0 0 1 230.5 484.8L230.5 476.8A95.3 95.3 0 0 0 238.8 476.5ZM222.2 476.5L221.5 484.4A103.3 103.3 0 0 1 212.6 483.2L213.9 475.4A95.3 95.3 0 0 0 222.2 476.5ZM205.8 473.6L203.8 481.3A103.3 103.3 0 0 1 195.2 478.5L197.9 471.1A95.3 95.3 0 0 0 205.8 473.6ZM152.4 436.2L145.9 440.7A103.3 103.3 0 0 1 141.1 433.1L147.9 429.2A95.3 95.3 0 0 0 152.4 436.2ZM135.5 389.8L127.6 390.5A103.3 103.3 0 0 1 127.2 381.5L135.2 381.5A95.3 95.3 0 0 0 135.5 389.8ZM136.6 364.9L128.8 363.6A103.3 103.3 0 0 1 130.7 354.8L138.4 356.8A95.3 95.3 0 0 0 136.6 364.9ZM197.9 291.9L195.2 284.5A103.3 103.3 0 0 1 203.8 281.7L205.8 289.4A95.3 95.3 0 0 0 197.9 291.9ZM230.5 278.2L230.5 270.3A111.2 111.2 0 0 1 240.2 270.7L239.5 278.6A103.3 103.3 0 0 0 230.5 278.2ZM289.7 296.9L294.3 290.4A111.2 111.2 0 0 1 302.0 296.3L296.9 302.4A103.3 103.3 0 0 0 289.7 296.9ZM296.9 302.4L302.0 296.3A111.2 111.2 0 0 1 309.1 302.9L303.5 308.5A103.3 103.3 0 0 0 296.9 302.4ZM303.5 308.5L309.1 302.9A111.2 111.2 0 0 1 315.7 310.0L309.6 315.1A103.3 103.3 0 0 0 303.5 308.5ZM309.6 447.9L315.7 453.0A111.2 111.2 0 0 1 309.1 460.1L303.5 454.5A103.3 103.3 0 0 0 309.6 447.9ZM230.5 484.8L230.5 492.7A111.2 111.2 0 0 1 220.8 492.3L221.5 484.4A103.3 103.3 0 0 0 230.5 484.8ZM145.9 440.7L139.4 445.3A111.2 111.2 0 0 1 134.2 437.1L141.1 433.1A103.3 103.3 0 0 0 145.9 440.7ZM136.9 425.1L129.7 428.5A111.2 111.2 0 0 1 126.0 419.5L133.5 416.8A103.3 103.3 0 0 0 136.9 425.1ZM186.9 287.9L183.5 280.7A111.2 111.2 0 0 1 192.5 277.0L195.2 284.5A103.3 103.3 0 0 0 186.9 287.9ZM212.6 279.8L211.2 272.0A111.2 111.2 0 0 1 220.8 270.7L221.5 278.6A103.3 103.3 0 0 0 212.6 279.8ZM341.3 391.2L349.2 391.9A119.2 119.2 0 0 1 347.9 402.2L340.0 400.8A111.2 111.2 0 0 0 341.3 391.2ZM230.5 492.7L230.5 500.7A119.2 119.2 0 0 1 220.1 500.2L220.8 492.3A111.2 111.2 0 0 0 230.5 492.7ZM159.0 296.3L153.9 290.2A119.2 119.2 0 0 1 162.1 283.9L166.7 290.4A111.2 111.2 0 0 0 159.0 296.3ZM280.9 273.5L284.2 266.3A127.1 127.1 0 0 1 294.1 271.4L290.1 278.3A119.2 119.2 0 0 0 280.9 273.5ZM345.6 412.3L353.3 414.4A127.1 127.1 0 0 1 349.9 425.0L342.5 422.3A119.2 119.2 0 0 0 345.6 412.3ZM230.5 500.7L230.5 508.6A127.1 127.1 0 0 1 219.4 508.1L220.1 500.2A119.2 119.2 0 0 0 230.5 500.7ZM170.9 484.7L166.9 491.6A127.1 127.1 0 0 1 157.6 485.6L162.1 479.1A119.2 119.2 0 0 0 170.9 484.7ZM139.2 304.9L133.1 299.8A127.1 127.1 0 0 1 140.6 291.6L146.2 297.2A119.2 119.2 0 0 0 139.2 304.9ZM220.1 262.8L219.4 254.9A127.1 127.1 0 0 1 230.5 254.4L230.5 262.3A119.2 119.2 0 0 0 220.1 262.8ZM340.6 445.1L347.5 449.0A135.1 135.1 0 0 1 341.1 459.0L334.6 454.4A127.1 127.1 0 0 0 340.6 445.1ZM312.2 478.9L317.3 485.0A135.1 135.1 0 0 1 308.0 492.1L303.4 485.6A127.1 127.1 0 0 0 312.2 478.9ZM284.2 496.7L287.6 503.9A135.1 135.1 0 0 1 276.7 508.4L274.0 500.9A127.1 127.1 0 0 0 284.2 496.7ZM107.7 414.4L100.0 416.5A135.1 135.1 0 0 1 97.5 405.0L105.3 403.6A127.1 127.1 0 0 0 107.7 414.4ZM287.6 259.1L290.9 251.9A143.0 143.0 0 0 1 302.0 257.7L298.0 264.5A135.1 135.1 0 0 0 287.6 259.1ZM352.9 438.6L360.1 441.9A143.0 143.0 0 0 1 354.3 453.0L347.5 449.0A135.1 135.1 0 0 0 352.9 438.6ZM254.0 514.5L255.3 522.3A143.0 143.0 0 0 1 243.0 524.0L242.3 516.0A135.1 135.1 0 0 0 254.0 514.5ZM173.4 503.9L170.1 511.1A143.0 143.0 0 0 1 159.0 505.3L163.0 498.5A135.1 135.1 0 0 0 173.4 503.9ZM163.0 264.5L159.0 257.7A143.0 143.0 0 0 1 170.1 251.9L173.4 259.1A135.1 135.1 0 0 0 163.0 264.5ZM173.4 259.1L170.1 251.9A143.0 143.0 0 0 1 181.6 247.1L184.3 254.6A135.1 135.1 0 0 0 173.4 259.1Z"/>
<path fill="#abd9e9" stroke="#abd9e9" stroke-width="0.6" d="M230.5 381.5L222.6 381.5A7.9 7.9 0 0 1 230.5 373.6ZM236.6 366.8L239.6 359.5A23.8 23.8 0 0 1 247.4 364.6L241.7 370.3A15.9 15.9 0 0 0 236.6 366.8ZM215.8 375.4L208.5 372.4A23.8 23.8 0 0 1 213.6 364.6L219.3 370.3A15.9 15.9 0 0 0 215.8 375.4ZM224.4 366.8L221.4 359.5A23.8 23.8 0 0 1 230.5 357.7L230.5 365.6A15.9 15.9 0 0 0 224.4 366.8ZM237.9 358.8L240.3 351.3A31.8 31.8 0 0 1 249.2 355.8L244.5 362.2A23.8 23.8 0 0 0 237.9 358.8ZM249.8 395.5L256.2 400.2A31.8 31.8 0 0 1 249.2 407.2L244.5 400.8A23.8 23.8 0 0 0 249.8 395.5ZM211.2 395.5L204.8 400.2A31.8 31.8 0 0 1 200.3 391.3L207.8 388.9A23.8 23.8 0 0 0 211.2 395.5ZM244.3 352.9L247.7 345.7A39.7 39.7 0 0 1 255.3 350.4L250.3 356.7A31.8 31.8 0 0 0 244.3 352.9ZM255.3 361.7L261.6 356.7A39.7 39.7 0 0 1 266.3 364.3L259.1 367.7A31.8 31.8 0 0 0 255.3 361.7ZM250.3 406.3L255.3 412.6A39.7 39.7 0 0 1 247.7 417.3L244.3 410.1A31.8 31.8 0 0 0 250.3 406.3ZM198.7 381.5L190.8 381.5A39.7 39.7 0 0 1 191.8 372.7L199.5 374.4A31.8 31.8 0 0 0 198.7 381.5ZM199.5 374.4L191.8 372.7A39.7 39.7 0 0 1 194.7 364.3L201.9 367.7A31.8 31.8 0 0 0 199.5 374.4ZM201.9 367.7L194.7 364.3A39.7 39.7 0 0 1 199.4 356.7L205.7 361.7A31.8 31.8 0 0 0 201.9 367.7ZM210.7 356.7L205.7 350.4A39.7 39.7 0 0 1 213.3 345.7L216.7 352.9A31.8 31.8 0 0 0 210.7 356.7ZM258.6 353.4L264.2 347.8A47.7 47.7 0 0 1 270.1 355.0L263.5 359.4A39.7 39.7 0 0 0 258.6 353.4ZM238.2 420.5L239.8 428.3A47.7 47.7 0 0 1 230.5 429.2L230.5 421.2A39.7 39.7 0 0 0 238.2 420.5ZM208.4 348.5L204.0 341.9A47.7 47.7 0 0 1 212.3 337.5L215.3 344.8A39.7 39.7 0 0 0 208.4 348.5ZM246.8 426.3L249.5 433.8A55.6 55.6 0 0 1 240.2 436.3L238.8 428.4A47.7 47.7 0 0 0 246.8 426.3ZM222.2 428.4L220.8 436.3A55.6 55.6 0 0 1 211.5 433.8L214.2 426.3A47.7 47.7 0 0 0 222.2 428.4ZM206.7 422.8L202.7 429.7A55.6 55.6 0 0 1 194.8 424.1L199.9 418.0A47.7 47.7 0 0 0 206.7 422.8ZM189.2 405.3L182.3 409.3A55.6 55.6 0 0 1 178.2 400.5L185.7 397.8A47.7 47.7 0 0 0 189.2 405.3ZM199.9 345.0L194.8 338.9A55.6 55.6 0 0 1 202.7 333.3L206.7 340.2A47.7 47.7 0 0 0 199.9 345.0ZM206.7 340.2L202.7 333.3A55.6 55.6 0 0 1 211.5 329.2L214.2 336.7A47.7 47.7 0 0 0 206.7 340.2ZM253.6 330.9L256.9 323.7A63.6 63.6 0 0 1 264.9 328.0L260.6 334.7A55.6 55.6 0 0 0 253.6 330.9ZM222.6 436.5L221.5 444.4A63.6 63.6 0 0 1 212.6 442.5L214.8 434.9A55.6 55.6 0 0 0 222.6 436.5ZM183.7 411.6L177.0 415.9A63.6 63.6 0 0 1 172.7 407.9L179.9 404.6A55.6 55.6 0 0 0 183.7 411.6ZM214.8 328.1L212.6 320.5A63.6 63.6 0 0 1 221.5 318.6L222.6 326.5A55.6 55.6 0 0 0 214.8 328.1ZM275.4 336.6L281.1 330.9A71.5 71.5 0 0 1 287.2 338.0L280.9 342.8A63.6 63.6 0 0 0 275.4 336.6ZM275.4 426.4L281.1 432.1A71.5 71.5 0 0 1 274.0 438.2L269.2 431.9A63.6 63.6 0 0 0 275.4 426.4ZM167.5 389.8L159.6 390.8A71.5 71.5 0 0 1 159.0 381.5L166.9 381.5A63.6 63.6 0 0 0 167.5 389.8ZM286.4 426.1L292.6 431.0A79.4 79.4 0 0 1 286.7 437.7L281.1 432.1A71.5 71.5 0 0 0 286.4 426.1ZM261.5 445.9L265.0 453.1A79.4 79.4 0 0 1 256.7 456.5L254.1 449.0A71.5 71.5 0 0 0 261.5 445.9ZM254.1 449.0L256.7 456.5A79.4 79.4 0 0 1 248.2 459.0L246.4 451.2A71.5 71.5 0 0 0 254.1 449.0ZM230.5 453.0L230.5 460.9A79.4 79.4 0 0 1 221.6 460.4L222.5 452.6A71.5 71.5 0 0 0 230.5 453.0ZM206.9 449.0L204.3 456.5A79.4 79.4 0 0 1 196.0 453.1L199.5 445.9A71.5 71.5 0 0 0 206.9 449.0ZM160.8 397.4L153.0 399.2A79.4 79.4 0 0 1 151.6 390.4L159.4 389.5A71.5 71.5 0 0 0 160.8 397.4ZM199.5 317.1L196.0 309.9A79.4 79.4 0 0 1 204.3 306.5L206.9 314.0A71.5 71.5 0 0 0 199.5 317.1ZM214.6 311.8L212.8 304.0A79.4 79.4 0 0 1 221.6 302.6L222.5 310.4A71.5 71.5 0 0 0 214.6 311.8ZM238.8 302.5L239.6 294.6A87.4 87.4 0 0 1 248.7 296.0L247.0 303.8A79.4 79.4 0 0 0 238.8 302.5ZM247.0 303.8L248.7 296.0A87.4 87.4 0 0 1 257.5 298.4L255.0 305.9A79.4 79.4 0 0 0 247.0 303.8ZM270.2 450.3L274.2 457.2A87.4 87.4 0 0 1 266.0 461.3L262.8 454.1A79.4 79.4 0 0 0 270.2 450.3ZM238.8 460.5L239.6 468.4A87.4 87.4 0 0 1 230.5 468.9L230.5 460.9A79.4 79.4 0 0 0 238.8 460.5ZM230.5 460.9L230.5 468.9A87.4 87.4 0 0 1 221.4 468.4L222.2 460.5A79.4 79.4 0 0 0 230.5 460.9ZM161.7 421.2L154.8 425.2A87.4 87.4 0 0 1 150.7 417.0L157.9 413.8A79.4 79.4 0 0 0 161.7 421.2ZM151.5 373.2L143.6 372.4A87.4 87.4 0 0 1 145.0 363.3L152.8 365.0A79.4 79.4 0 0 0 151.5 373.2ZM300.2 434.2L306.6 439.0A95.3 95.3 0 0 1 301.0 445.7L295.1 440.4A87.4 87.4 0 0 0 300.2 434.2ZM276.5 455.8L280.7 462.6A95.3 95.3 0 0 1 273.0 466.8L269.5 459.7A87.4 87.4 0 0 0 276.5 455.8ZM269.5 459.7L273.0 466.8A95.3 95.3 0 0 1 264.9 470.4L262.1 463.0A87.4 87.4 0 0 0 269.5 459.7ZM222.4 468.5L221.7 476.4A95.3 95.3 0 0 1 213.0 475.2L214.4 467.4A87.4 87.4 0 0 0 222.4 468.5ZM152.3 420.5L145.2 424.0A95.3 95.3 0 0 1 141.6 415.9L149.0 413.1A87.4 87.4 0 0 0 152.3 420.5ZM146.4 357.6L138.8 355.4A95.3 95.3 0 0 1 141.6 347.1L149.0 349.9A87.4 87.4 0 0 0 146.4 357.6ZM156.2 335.5L149.4 331.3A95.3 95.3 0 0 1 154.4 324.0L160.8 328.8A87.4 87.4 0 0 0 156.2 335.5ZM285.2 303.4L289.7 296.9A103.3 103.3 0 0 1 296.9 302.4L291.8 308.5A95.3 95.3 0 0 0 285.2 303.4ZM325.5 373.2L333.4 372.5A103.3 103.3 0 0 1 333.8 381.5L325.8 381.5A95.3 95.3 0 0 0 325.5 373.2ZM285.2 459.6L289.7 466.1A103.3 103.3 0 0 1 282.1 470.9L278.2 464.1A95.3 95.3 0 0 0 285.2 459.6ZM270.8 467.9L274.1 475.1A103.3 103.3 0 0 1 265.8 478.5L263.1 471.1A95.3 95.3 0 0 0 270.8 467.9ZM263.1 471.1L265.8 478.5A103.3 103.3 0 0 1 257.2 481.3L255.2 473.6A95.3 95.3 0 0 0 263.1 471.1ZM230.5 476.8L230.5 484.8A103.3 103.3 0 0 1 221.5 484.4L222.2 476.5A95.3 95.3 0 0 0 230.5 476.8ZM157.5 442.8L151.4 447.9A103.3 103.3 0 0 1 145.9 440.7L152.4 436.2A95.3 95.3 0 0 0 157.5 442.8ZM135.5 373.2L127.6 372.5A103.3 103.3 0 0 1 128.8 363.6L136.6 364.9A95.3 95.3 0 0 0 135.5 373.2ZM213.9 287.6L212.6 279.8A103.3 103.3 0 0 1 221.5 278.6L222.2 286.5A95.3 95.3 0 0 0 213.9 287.6ZM265.8 284.5L268.5 277.0A111.2 111.2 0 0 1 277.5 280.7L274.1 287.9A103.3 103.3 0 0 0 265.8 284.5ZM327.5 416.8L335.0 419.5A111.2 111.2 0 0 1 331.3 428.5L324.1 425.1A103.3 103.3 0 0 0 327.5 416.8ZM230.5 270.3L230.5 262.3A119.2 119.2 0 0 1 240.9 262.8L240.2 270.7A111.2 111.2 0 0 0 230.5 270.3ZM268.5 277.0L271.3 269.5A119.2 119.2 0 0 1 280.9 273.5L277.5 280.7A111.2 111.2 0 0 0 268.5 277.0ZM321.6 317.7L328.1 313.1A119.2 119.2 0 0 1 333.7 321.9L326.8 325.9A111.2 111.2 0 0 0 321.6 317.7ZM335.0 419.5L342.5 422.3A119.2 119.2 0 0 1 338.5 431.9L331.3 428.5A111.2 111.2 0 0 0 335.0 419.5ZM192.5 486.0L189.7 493.5A119.2 119.2 0 0 1 180.1 489.5L183.5 482.3A111.2 111.2 0 0 0 192.5 486.0ZM174.9 477.8L170.9 484.7A119.2 119.2 0 0 1 162.1 479.1L166.7 472.6A111.2 111.2 0 0 0 174.9 477.8ZM183.5 280.7L180.1 273.5A119.2 119.2 0 0 1 189.7 269.5L192.5 277.0A111.2 111.2 0 0 0 183.5 280.7ZM192.5 277.0L189.7 269.5A119.2 119.2 0 0 1 199.7 266.4L201.7 274.1A111.2 111.2 0 0 0 192.5 277.0ZM220.8 270.7L220.1 262.8A119.2 119.2 0 0 1 230.5 262.3L230.5 270.3A111.2 111.2 0 0 0 220.8 270.7ZM230.5 262.3L230.5 254.4A127.1 127.1 0 0 1 241.6 254.9L240.9 262.8A119.2 119.2 0 0 0 230.5 262.3ZM261.3 266.4L263.4 258.7A127.1 127.1 0 0 1 274.0 262.1L271.3 269.5A119.2 119.2 0 0 0 261.3 266.4ZM271.3 269.5L274.0 262.1A127.1 127.1 0 0 1 284.2 266.3L280.9 273.5A119.2 119.2 0 0 0 271.3 269.5ZM333.7 441.1L340.6 445.1A127.1 127.1 0 0 1 334.6 454.4L328.1 449.9A119.2 119.2 0 0 0 333.7 441.1ZM328.1 449.9L334.6 454.4A127.1 127.1 0 0 1 327.9 463.2L321.8 458.1A119.2 119.2 0 0 0 328.1 449.9ZM280.9 489.5L284.2 496.7A127.1 127.1 0 0 1 274.0 500.9L271.3 493.5A119.2 119.2 0 0 0 280.9 489.5ZM251.2 498.9L252.6 506.7A127.1 127.1 0 0 1 241.6 508.1L240.9 500.2A119.2 119.2 0 0 0 251.2 498.9ZM180.1 489.5L176.8 496.7A127.1 127.1 0 0 1 166.9 491.6L170.9 484.7A119.2 119.2 0 0 0 180.1 489.5ZM118.5 340.7L111.1 338.0A127.1 127.1 0 0 1 115.3 327.8L122.5 331.1A119.2 119.2 0 0 0 118.5 340.7ZM199.7 266.4L197.6 258.7A127.1 127.1 0 0 1 208.4 256.3L209.8 264.1A119.2 119.2 0 0 0 199.7 266.4ZM230.5 254.4L230.5 246.4A135.1 135.1 0 0 1 242.3 247.0L241.6 254.9A127.1 127.1 0 0 0 230.5 254.4ZM334.6 308.6L341.1 304.0A135.1 135.1 0 0 1 347.5 314.0L340.6 317.9A127.1 127.1 0 0 0 334.6 308.6ZM345.7 435.2L352.9 438.6A135.1 135.1 0 0 1 347.5 449.0L340.6 445.1A127.1 127.1 0 0 0 345.7 435.2ZM334.6 454.4L341.1 459.0A135.1 135.1 0 0 1 334.0 468.3L327.9 463.2A127.1 127.1 0 0 0 334.6 454.4ZM252.6 506.7L254.0 514.5A135.1 135.1 0 0 1 242.3 516.0L241.6 508.1A127.1 127.1 0 0 0 252.6 506.7ZM133.1 299.8L127.0 294.7A135.1 135.1 0 0 1 135.0 286.0L140.6 291.6A127.1 127.1 0 0 0 133.1 299.8ZM176.8 266.3L173.4 259.1A135.1 135.1 0 0 1 184.3 254.6L187.0 262.1A127.1 127.1 0 0 0 176.8 266.3ZM254.0 248.5L255.3 240.7A143.0 143.0 0 0 1 267.5 243.4L265.5 251.0A135.1 135.1 0 0 0 254.0 248.5ZM341.1 304.0L347.6 299.5A143.0 143.0 0 0 1 354.3 310.0L347.5 314.0A135.1 135.1 0 0 0 341.1 304.0ZM347.5 449.0L354.3 453.0A143.0 143.0 0 0 1 347.6 463.5L341.1 459.0A135.1 135.1 0 0 0 347.5 449.0ZM100.0 416.5L92.4 418.5A143.0 143.0 0 0 1 89.7 406.3L97.5 405.0A135.1 135.1 0 0 0 100.0 416.5ZM153.0 270.9L148.5 264.4A143.0 143.0 0 0 1 159.0 257.7L163.0 264.5A135.1 135.1 0 0 0 153.0 270.9ZM195.5 251.0L193.5 243.4A143.0 143.0 0 0 1 205.7 240.7L207.0 248.5A135.1 135.1 0 0 0 195.5 251.0Z"/>
<path fill="#3b56a4" stroke="#3b56a4" stroke-width="0.6" d="M230.5 373.6L230.5 365.6A15.9 15.9 0 0 1 241.7 370.3L236.1 375.9A7.9 7.9 0 0 0 230.5 373.6ZM236.6 396.2L239.6 403.5A23.8 23.8 0 0 1 230.5 405.3L230.5 397.4A15.9 15.9 0 0 0 236.6 396.2ZM261.5 374.4L269.2 372.7A39.7 39.7 0 0 1 270.2 381.5L262.3 381.5A31.8 31.8 0 0 0 261.5 374.4ZM262.3 381.5L270.2 381.5A39.7 39.7 0 0 1 269.2 390.3L261.5 388.6A31.8 31.8 0 0 0 262.3 381.5ZM263.5 359.4L270.1 355.0A47.7 47.7 0 0 1 274.5 363.3L267.2 366.3A39.7 39.7 0 0 0 263.5 359.4ZM267.2 366.3L274.5 363.3A47.7 47.7 0 0 1 277.3 372.2L269.5 373.8A39.7 39.7 0 0 0 267.2 366.3ZM269.5 373.8L277.3 372.2A47.7 47.7 0 0 1 278.2 381.5L270.2 381.5A39.7 39.7 0 0 0 269.5 373.8ZM270.2 381.5L278.2 381.5A47.7 47.7 0 0 1 277.3 390.8L269.5 389.2A39.7 39.7 0 0 0 270.2 381.5ZM269.5 389.2L277.3 390.8A47.7 47.7 0 0 1 274.5 399.7L267.2 396.7A39.7 39.7 0 0 0 269.5 389.2ZM252.6 414.5L257.0 421.1A47.7 47.7 0 0 1 248.7 425.5L245.7 418.2A39.7 39.7 0 0 0 252.6 414.5ZM245.7 418.2L248.7 425.5A47.7 47.7 0 0 1 239.8 428.3L238.2 420.5A39.7 39.7 0 0 0 245.7 418.2ZM191.5 389.2L183.7 390.8A47.7 47.7 0 0 1 182.8 381.5L190.8 381.5A39.7 39.7 0 0 0 191.5 389.2ZM271.8 357.7L278.7 353.7A55.6 55.6 0 0 1 282.8 362.5L275.3 365.2A47.7 47.7 0 0 0 271.8 357.7ZM275.3 365.2L282.8 362.5A55.6 55.6 0 0 1 285.3 371.8L277.4 373.2A47.7 47.7 0 0 0 275.3 365.2ZM277.4 373.2L285.3 371.8A55.6 55.6 0 0 1 286.1 381.5L278.2 381.5A47.7 47.7 0 0 0 277.4 373.2ZM278.2 381.5L286.1 381.5A55.6 55.6 0 0 1 285.3 391.2L277.4 389.8A47.7 47.7 0 0 0 278.2 381.5ZM277.4 389.8L285.3 391.2A55.6 55.6 0 0 1 282.8 400.5L275.3 397.8A47.7 47.7 0 0 0 277.4 389.8ZM182.8 381.5L174.9 381.5A55.6 55.6 0 0 1 175.7 371.8L183.6 373.2A47.7 47.7 0 0 0 182.8 381.5ZM183.6 373.2L175.7 371.8A55.6 55.6 0 0 1 178.2 362.5L185.7 365.2A47.7 47.7 0 0 0 183.6 373.2ZM189.2 357.7L182.3 353.7A55.6 55.6 0 0 1 187.9 345.8L194.0 350.9A47.7 47.7 0 0 0 189.2 357.7ZM281.1 358.4L288.3 355.1A63.6 63.6 0 0 1 291.5 363.6L283.9 365.8A55.6 55.6 0 0 0 281.1 358.4ZM260.6 428.3L264.9 435.0A63.6 63.6 0 0 1 256.9 439.3L253.6 432.1A55.6 55.6 0 0 0 260.6 428.3ZM174.9 381.5L166.9 381.5A63.6 63.6 0 0 1 167.6 372.5L175.5 373.6A55.6 55.6 0 0 0 174.9 381.5ZM175.5 373.6L167.6 372.5A63.6 63.6 0 0 1 169.5 363.6L177.1 365.8A55.6 55.6 0 0 0 175.5 373.6ZM177.1 365.8L169.5 363.6A63.6 63.6 0 0 1 172.7 355.1L179.9 358.4A55.6 55.6 0 0 0 177.1 365.8ZM185.6 426.4L179.9 432.1A71.5 71.5 0 0 1 173.8 425.0L180.1 420.2A63.6 63.6 0 0 0 185.6 426.4ZM166.9 381.5L159.0 381.5A71.5 71.5 0 0 1 159.6 372.2L167.5 373.2A63.6 63.6 0 0 0 166.9 381.5ZM167.5 373.2L159.6 372.2A71.5 71.5 0 0 1 161.4 363.0L169.1 365.1A63.6 63.6 0 0 0 167.5 373.2ZM169.1 365.1L161.4 363.0A71.5 71.5 0 0 1 164.4 354.1L171.8 357.2A63.6 63.6 0 0 0 169.1 365.1ZM254.1 314.0L256.7 306.5A79.4 79.4 0 0 1 265.0 309.9L261.5 317.1A71.5 71.5 0 0 0 254.1 314.0ZM291.0 343.5L297.8 339.2A79.4 79.4 0 0 1 302.1 347.0L294.9 350.5A71.5 71.5 0 0 0 291.0 343.5ZM185.9 437.4L181.0 443.6A79.4 79.4 0 0 1 174.3 437.7L179.9 432.1A71.5 71.5 0 0 0 185.9 437.4ZM179.9 432.1L174.3 437.7A79.4 79.4 0 0 1 168.4 431.0L174.6 426.1A71.5 71.5 0 0 0 179.9 432.1ZM306.1 406.0L313.6 408.5A87.4 87.4 0 0 1 310.3 417.0L303.1 413.8A79.4 79.4 0 0 0 306.1 406.0ZM283.7 440.5L289.0 446.4A87.4 87.4 0 0 1 281.9 452.2L277.2 445.8A79.4 79.4 0 0 0 283.7 440.5ZM183.8 445.8L179.1 452.2A87.4 87.4 0 0 1 172.0 446.4L177.3 440.5A79.4 79.4 0 0 0 183.8 445.8ZM314.6 405.4L322.2 407.6A95.3 95.3 0 0 1 319.4 415.9L312.0 413.1A87.4 87.4 0 0 0 314.6 405.4ZM289.4 446.1L294.7 452.0A95.3 95.3 0 0 1 288.0 457.6L283.2 451.2A87.4 87.4 0 0 0 289.4 446.1ZM146.4 405.4L138.8 407.6A95.3 95.3 0 0 1 136.8 399.0L144.6 397.6A87.4 87.4 0 0 0 146.4 405.4ZM322.6 406.2L330.3 408.2A103.3 103.3 0 0 1 327.5 416.8L320.1 414.1A95.3 95.3 0 0 0 322.6 406.2ZM297.9 448.9L303.5 454.5A103.3 103.3 0 0 1 296.9 460.6L291.8 454.5A95.3 95.3 0 0 0 297.9 448.9ZM291.8 454.5L296.9 460.6A103.3 103.3 0 0 1 289.7 466.1L285.2 459.6A95.3 95.3 0 0 0 291.8 454.5ZM274.1 475.1L277.5 482.3A111.2 111.2 0 0 1 268.5 486.0L265.8 478.5A103.3 103.3 0 0 0 274.1 475.1ZM145.9 322.3L139.4 317.7A111.2 111.2 0 0 1 145.3 310.0L151.4 315.1A103.3 103.3 0 0 0 145.9 322.3ZM302.0 296.3L307.1 290.2A119.2 119.2 0 0 1 314.8 297.2L309.1 302.9A111.2 111.2 0 0 0 302.0 296.3ZM326.8 325.9L333.7 321.9A119.2 119.2 0 0 1 338.5 331.1L331.3 334.5A111.2 111.2 0 0 0 326.8 325.9ZM340.0 362.2L347.9 360.8A119.2 119.2 0 0 1 349.2 371.1L341.3 371.8A111.2 111.2 0 0 0 340.0 362.2ZM341.3 371.8L349.2 371.1A119.2 119.2 0 0 1 349.7 381.5L341.7 381.5A111.2 111.2 0 0 0 341.3 371.8ZM309.1 460.1L314.8 465.8A119.2 119.2 0 0 1 307.1 472.8L302.0 466.7A111.2 111.2 0 0 0 309.1 460.1ZM211.2 491.0L209.8 498.9A119.2 119.2 0 0 1 199.7 496.6L201.7 488.9A111.2 111.2 0 0 0 211.2 491.0ZM201.7 488.9L199.7 496.6A119.2 119.2 0 0 1 189.7 493.5L192.5 486.0A111.2 111.2 0 0 0 201.7 488.9ZM129.7 334.5L122.5 331.1A119.2 119.2 0 0 1 127.3 321.9L134.2 325.9A111.2 111.2 0 0 0 129.7 334.5ZM134.2 325.9L127.3 321.9A119.2 119.2 0 0 1 132.9 313.1L139.4 317.7A111.2 111.2 0 0 0 134.2 325.9ZM139.4 317.7L132.9 313.1A119.2 119.2 0 0 1 139.2 304.9L145.3 310.0A111.2 111.2 0 0 0 139.4 317.7ZM290.1 278.3L294.1 271.4A127.1 127.1 0 0 1 303.4 277.4L298.9 283.9A119.2 119.2 0 0 0 290.1 278.3ZM298.9 283.9L303.4 277.4A127.1 127.1 0 0 1 312.2 284.1L307.1 290.2A119.2 119.2 0 0 0 298.9 283.9ZM333.7 321.9L340.6 317.9A127.1 127.1 0 0 1 345.7 327.8L338.5 331.1A119.2 119.2 0 0 0 333.7 321.9ZM347.9 360.8L355.7 359.4A127.1 127.1 0 0 1 357.1 370.4L349.2 371.1A119.2 119.2 0 0 0 347.9 360.8ZM349.2 371.1L357.1 370.4A127.1 127.1 0 0 1 357.6 381.5L349.7 381.5A119.2 119.2 0 0 0 349.2 371.1ZM220.1 500.2L219.4 508.1A127.1 127.1 0 0 1 208.4 506.7L209.8 498.9A119.2 119.2 0 0 0 220.1 500.2ZM209.8 498.9L208.4 506.7A127.1 127.1 0 0 1 197.6 504.3L199.7 496.6A119.2 119.2 0 0 0 209.8 498.9ZM199.7 496.6L197.6 504.3A127.1 127.1 0 0 1 187.0 500.9L189.7 493.5A119.2 119.2 0 0 0 199.7 496.6ZM122.5 331.1L115.3 327.8A127.1 127.1 0 0 1 120.4 317.9L127.3 321.9A119.2 119.2 0 0 0 122.5 331.1ZM127.3 321.9L120.4 317.9A127.1 127.1 0 0 1 126.4 308.6L132.9 313.1A119.2 119.2 0 0 0 127.3 321.9ZM132.9 313.1L126.4 308.6A127.1 127.1 0 0 1 133.1 299.8L139.2 304.9A119.2 119.2 0 0 0 132.9 313.1ZM209.8 264.1L208.4 256.3A127.1 127.1 0 0 1 219.4 254.9L220.1 262.8A119.2 119.2 0 0 0 209.8 264.1ZM294.1 271.4L298.0 264.5A135.1 135.1 0 0 1 308.0 270.9L303.4 277.4A127.1 127.1 0 0 0 294.1 271.4ZM303.4 277.4L308.0 270.9A135.1 135.1 0 0 1 317.3 278.0L312.2 284.1A127.1 127.1 0 0 0 303.4 277.4ZM355.7 359.4L363.5 358.0A135.1 135.1 0 0 1 365.0 369.7L357.1 370.4A127.1 127.1 0 0 0 355.7 359.4ZM357.1 370.4L365.0 369.7A135.1 135.1 0 0 1 365.6 381.5L357.6 381.5A127.1 127.1 0 0 0 357.1 370.4ZM327.9 463.2L334.0 468.3A135.1 135.1 0 0 1 326.0 477.0L320.4 471.4A127.1 127.1 0 0 0 327.9 463.2ZM219.4 508.1L218.7 516.0A135.1 135.1 0 0 1 207.0 514.5L208.4 506.7A127.1 127.1 0 0 0 219.4 508.1ZM208.4 506.7L207.0 514.5A135.1 135.1 0 0 1 195.5 512.0L197.6 504.3A127.1 127.1 0 0 0 208.4 506.7ZM115.3 327.8L108.1 324.4A135.1 135.1 0 0 1 113.5 314.0L120.4 317.9A127.1 127.1 0 0 0 115.3 327.8ZM120.4 317.9L113.5 314.0A135.1 135.1 0 0 1 119.9 304.0L126.4 308.6A127.1 127.1 0 0 0 120.4 317.9ZM126.4 308.6L119.9 304.0A135.1 135.1 0 0 1 127.0 294.7L133.1 299.8A127.1 127.1 0 0 0 126.4 308.6ZM208.4 256.3L207.0 248.5A135.1 135.1 0 0 1 218.7 247.0L219.4 254.9A127.1 127.1 0 0 0 208.4 256.3ZM298.0 264.5L302.0 257.7A143.0 143.0 0 0 1 312.5 264.4L308.0 270.9A135.1 135.1 0 0 0 298.0 264.5ZM308.0 270.9L312.5 264.4A143.0 143.0 0 0 1 322.4 272.0L317.3 278.0A135.1 135.1 0 0 0 308.0 270.9ZM347.5 314.0L354.3 310.0A143.0 143.0 0 0 1 360.1 321.1L352.9 324.4A135.1 135.1 0 0 0 347.5 314.0ZM334.0 468.3L340.0 473.4A143.0 143.0 0 0 1 331.6 482.6L326.0 477.0A135.1 135.1 0 0 0 334.0 468.3ZM218.7 516.0L218.0 524.0A143.0 143.0 0 0 1 205.7 522.3L207.0 514.5A135.1 135.1 0 0 0 218.7 516.0ZM108.1 438.6L100.9 441.9A143.0 143.0 0 0 1 96.1 430.4L103.6 427.7A135.1 135.1 0 0 0 108.1 438.6ZM97.5 405.0L89.7 406.3A143.0 143.0 0 0 1 88.0 394.0L96.0 393.3A135.1 135.1 0 0 0 97.5 405.0ZM108.1 324.4L100.9 321.1A143.0 143.0 0 0 1 106.7 310.0L113.5 314.0A135.1 135.1 0 0 0 108.1 324.4ZM113.5 314.0L106.7 310.0A143.0 143.0 0 0 1 113.4 299.5L119.9 304.0A135.1 135.1 0 0 0 113.5 314.0ZM207.0 248.5L205.7 240.7A143.0 143.0 0 0 1 218.0 239.0L218.7 247.0A135.1 135.1 0 0 0 207.0 248.5Z"/>
<path fill="#fee090" stroke="#fee090" stroke-width="0.6" d="M238.4 381.5L246.4 381.5A15.9 15.9 0 0 1 241.7 392.7L236.1 387.1A7.9 7.9 0 0 0 238.4 381.5ZM241.7 370.3L247.4 364.6A23.8 23.8 0 0 1 252.5 372.4L245.2 375.4A15.9 15.9 0 0 0 241.7 370.3ZM246.4 381.5L254.3 381.5A23.8 23.8 0 0 1 252.5 390.6L245.2 387.6A15.9 15.9 0 0 0 246.4 381.5ZM245.2 387.6L252.5 390.6A23.8 23.8 0 0 1 247.4 398.4L241.7 392.7A15.9 15.9 0 0 0 245.2 387.6ZM244.5 362.2L249.2 355.8A31.8 31.8 0 0 1 256.2 362.8L249.8 367.5A23.8 23.8 0 0 0 244.5 362.2ZM207.8 388.9L200.3 391.3A31.8 31.8 0 0 1 198.7 381.5L206.7 381.5A23.8 23.8 0 0 0 207.8 388.9ZM222.2 334.6L220.8 326.7A55.6 55.6 0 0 1 230.5 325.9L230.5 333.8A47.7 47.7 0 0 0 222.2 334.6ZM179.9 404.6L172.7 407.9A63.6 63.6 0 0 1 169.5 399.4L177.1 397.2A55.6 55.6 0 0 0 179.9 404.6ZM177.1 397.2L169.5 399.4A63.6 63.6 0 0 1 167.6 390.5L175.5 389.4A55.6 55.6 0 0 0 177.1 397.2ZM300.2 365.6L308.0 363.8A79.4 79.4 0 0 1 309.4 372.6L301.6 373.5A71.5 71.5 0 0 0 300.2 365.6ZM170.0 343.5L163.2 339.2A79.4 79.4 0 0 1 168.4 332.0L174.6 336.9A71.5 71.5 0 0 0 170.0 343.5ZM174.6 336.9L168.4 332.0A79.4 79.4 0 0 1 174.3 325.3L179.9 330.9A71.5 71.5 0 0 0 174.6 336.9ZM308.2 365.0L316.0 363.3A87.4 87.4 0 0 1 317.4 372.4L309.5 373.2A79.4 79.4 0 0 0 308.2 365.0ZM198.2 454.1L195.0 461.3A87.4 87.4 0 0 1 186.8 457.2L190.8 450.3A79.4 79.4 0 0 0 198.2 454.1ZM166.2 334.8L159.8 330.1A87.4 87.4 0 0 1 165.6 323.0L171.5 328.3A79.4 79.4 0 0 0 166.2 334.8ZM317.5 373.4L325.4 372.7A95.3 95.3 0 0 1 325.8 381.5L317.9 381.5A87.4 87.4 0 0 0 317.5 373.4ZM304.8 427.5L311.6 431.7A95.3 95.3 0 0 1 306.6 439.0L300.2 434.2A87.4 87.4 0 0 0 304.8 427.5ZM198.9 463.0L196.1 470.4A95.3 95.3 0 0 1 188.0 466.8L191.5 459.7A87.4 87.4 0 0 0 198.9 463.0ZM247.1 287.6L248.4 279.8A103.3 103.3 0 0 1 257.2 281.7L255.2 289.4A95.3 95.3 0 0 0 247.1 287.6ZM313.1 429.2L319.9 433.1A103.3 103.3 0 0 1 315.1 440.7L308.6 436.2A95.3 95.3 0 0 0 313.1 429.2ZM308.6 436.2L315.1 440.7A103.3 103.3 0 0 1 309.6 447.9L303.5 442.8A95.3 95.3 0 0 0 308.6 436.2ZM197.9 471.1L195.2 478.5A103.3 103.3 0 0 1 186.9 475.1L190.2 467.9A95.3 95.3 0 0 0 197.9 471.1ZM248.4 279.8L249.8 272.0A111.2 111.2 0 0 1 259.3 274.1L257.2 281.7A103.3 103.3 0 0 0 248.4 279.8ZM303.4 485.6L308.0 492.1A135.1 135.1 0 0 1 298.0 498.5L294.1 491.6A127.1 127.1 0 0 0 303.4 485.6ZM263.4 504.3L265.5 512.0A135.1 135.1 0 0 1 254.0 514.5L252.6 506.7A127.1 127.1 0 0 0 263.4 504.3ZM187.0 262.1L184.3 254.6A135.1 135.1 0 0 1 195.5 251.0L197.6 258.7A127.1 127.1 0 0 0 187.0 262.1ZM308.0 492.1L312.5 498.6A143.0 143.0 0 0 1 302.0 505.3L298.0 498.5A135.1 135.1 0 0 0 308.0 492.1ZM135.0 477.0L129.4 482.6A143.0 143.0 0 0 1 121.0 473.4L127.0 468.3A135.1 135.1 0 0 0 135.0 477.0ZM184.3 254.6L181.6 247.1A143.0 143.0 0 0 1 193.5 243.4L195.5 251.0A135.1 135.1 0 0 0 184.3 254.6Z"/>
<path fill="#74add1" stroke="#74add1" stroke-width="0.6" d="M230.5 389.4L230.5 397.4A15.9 15.9 0 0 1 219.3 392.7L224.9 387.1A7.9 7.9 0 0 0 230.5 389.4ZM224.9 387.1L219.3 392.7A15.9 15.9 0 0 1 214.6 381.5L222.6 381.5A7.9 7.9 0 0 0 224.9 387.1ZM230.5 397.4L230.5 405.3A23.8 23.8 0 0 1 221.4 403.5L224.4 396.2A15.9 15.9 0 0 0 230.5 397.4ZM224.4 396.2L221.4 403.5A23.8 23.8 0 0 1 213.6 398.4L219.3 392.7A15.9 15.9 0 0 0 224.4 396.2ZM214.6 381.5L206.7 381.5A23.8 23.8 0 0 1 208.5 372.4L215.8 375.4A15.9 15.9 0 0 0 214.6 381.5ZM237.6 350.5L239.3 342.8A39.7 39.7 0 0 1 247.7 345.7L244.3 352.9A31.8 31.8 0 0 0 237.6 350.5ZM244.3 410.1L247.7 417.3A39.7 39.7 0 0 1 239.3 420.2L237.6 412.5A31.8 31.8 0 0 0 244.3 410.1ZM237.6 412.5L239.3 420.2A39.7 39.7 0 0 1 230.5 421.2L230.5 413.3A31.8 31.8 0 0 0 237.6 412.5ZM267.2 396.7L274.5 399.7A47.7 47.7 0 0 1 270.1 408.0L263.5 403.6A39.7 39.7 0 0 0 267.2 396.7ZM222.8 420.5L221.2 428.3A47.7 47.7 0 0 1 212.3 425.5L215.3 418.2A39.7 39.7 0 0 0 222.8 420.5ZM215.3 418.2L212.3 425.5A47.7 47.7 0 0 1 204.0 421.1L208.4 414.5A39.7 39.7 0 0 0 215.3 418.2ZM202.4 353.4L196.8 347.8A47.7 47.7 0 0 1 204.0 341.9L208.4 348.5A39.7 39.7 0 0 0 202.4 353.4ZM246.8 336.7L249.5 329.2A55.6 55.6 0 0 1 258.3 333.3L254.3 340.2A47.7 47.7 0 0 0 246.8 336.7ZM275.3 397.8L282.8 400.5A55.6 55.6 0 0 1 278.7 409.3L271.8 405.3A47.7 47.7 0 0 0 275.3 397.8ZM199.9 418.0L194.8 424.1A55.6 55.6 0 0 1 187.9 417.2L194.0 412.1A47.7 47.7 0 0 0 199.9 418.0ZM238.4 326.5L239.5 318.6A63.6 63.6 0 0 1 248.4 320.5L246.2 328.1A55.6 55.6 0 0 0 238.4 326.5ZM283.9 365.8L291.5 363.6A63.6 63.6 0 0 1 293.4 372.5L285.5 373.6A55.6 55.6 0 0 0 283.9 365.8ZM194.1 339.5L188.9 333.5A63.6 63.6 0 0 1 196.1 328.0L200.4 334.7A55.6 55.6 0 0 0 194.1 339.5ZM238.8 318.5L239.8 310.6A71.5 71.5 0 0 1 249.0 312.4L246.9 320.1A63.6 63.6 0 0 0 238.8 318.5ZM254.8 322.8L257.9 315.4A71.5 71.5 0 0 1 266.2 319.6L262.3 326.5A63.6 63.6 0 0 0 254.8 322.8ZM262.3 326.5L266.2 319.6A71.5 71.5 0 0 1 274.0 324.8L269.2 331.1A63.6 63.6 0 0 0 262.3 326.5ZM280.9 342.8L287.2 338.0A71.5 71.5 0 0 1 292.4 345.8L285.5 349.7A63.6 63.6 0 0 0 280.9 342.8ZM294.1 381.5L302.0 381.5A71.5 71.5 0 0 1 301.4 390.8L293.5 389.8A63.6 63.6 0 0 0 294.1 381.5ZM262.3 436.5L266.2 443.4A71.5 71.5 0 0 1 257.9 447.6L254.8 440.2A63.6 63.6 0 0 0 262.3 436.5ZM230.5 445.1L230.5 453.0A71.5 71.5 0 0 1 221.2 452.4L222.2 444.5A63.6 63.6 0 0 0 230.5 445.1ZM222.2 444.5L221.2 452.4A71.5 71.5 0 0 1 212.0 450.6L214.1 442.9A63.6 63.6 0 0 0 222.2 444.5ZM206.2 440.2L203.1 447.6A71.5 71.5 0 0 1 194.8 443.4L198.7 436.5A63.6 63.6 0 0 0 206.2 440.2ZM185.6 336.6L179.9 330.9A71.5 71.5 0 0 1 187.0 324.8L191.8 331.1A63.6 63.6 0 0 0 185.6 336.6ZM191.8 331.1L187.0 324.8A71.5 71.5 0 0 1 194.7 319.6L198.7 326.5A63.6 63.6 0 0 0 191.8 331.1ZM206.2 322.8L203.1 315.4A71.5 71.5 0 0 1 212.0 312.4L214.1 320.1A63.6 63.6 0 0 0 206.2 322.8ZM230.5 310.0L230.5 302.1A79.4 79.4 0 0 1 239.4 302.6L238.5 310.4A71.5 71.5 0 0 0 230.5 310.0ZM246.4 311.8L248.2 304.0A79.4 79.4 0 0 1 256.7 306.5L254.1 314.0A71.5 71.5 0 0 0 246.4 311.8ZM268.5 321.0L272.8 314.2A79.4 79.4 0 0 1 280.0 319.4L275.1 325.6A71.5 71.5 0 0 0 268.5 321.0ZM302.0 381.5L309.9 381.5A79.4 79.4 0 0 1 309.4 390.4L301.6 389.5A71.5 71.5 0 0 0 302.0 381.5ZM298.0 405.1L305.5 407.7A79.4 79.4 0 0 1 302.1 416.0L294.9 412.5A71.5 71.5 0 0 0 298.0 405.1ZM222.5 452.6L221.6 460.4A79.4 79.4 0 0 1 212.8 459.0L214.6 451.2A71.5 71.5 0 0 0 222.5 452.6ZM214.6 451.2L212.8 459.0A79.4 79.4 0 0 1 204.3 456.5L206.9 449.0A71.5 71.5 0 0 0 214.6 451.2ZM170.0 419.5L163.2 423.8A79.4 79.4 0 0 1 158.9 416.0L166.1 412.5A71.5 71.5 0 0 0 170.0 419.5ZM163.0 357.9L155.5 355.3A79.4 79.4 0 0 1 158.9 347.0L166.1 350.5A71.5 71.5 0 0 0 163.0 357.9ZM185.9 325.6L181.0 319.4A79.4 79.4 0 0 1 188.2 314.2L192.5 321.0A71.5 71.5 0 0 0 185.9 325.6ZM309.9 381.5L317.9 381.5A87.4 87.4 0 0 1 317.4 390.6L309.5 389.8A79.4 79.4 0 0 0 309.9 381.5ZM309.5 389.8L317.4 390.6A87.4 87.4 0 0 1 316.0 399.7L308.2 398.0A79.4 79.4 0 0 0 309.5 389.8ZM294.8 428.2L301.2 432.9A87.4 87.4 0 0 1 295.4 440.0L289.5 434.7A79.4 79.4 0 0 0 294.8 428.2ZM247.0 459.2L248.7 467.0A87.4 87.4 0 0 1 239.6 468.4L238.8 460.5A79.4 79.4 0 0 0 247.0 459.2ZM214.0 459.2L212.3 467.0A87.4 87.4 0 0 1 203.5 464.6L206.0 457.1A79.4 79.4 0 0 0 214.0 459.2ZM171.5 434.7L165.6 440.0A87.4 87.4 0 0 1 159.8 432.9L166.2 428.2A79.4 79.4 0 0 0 171.5 434.7ZM154.9 406.0L147.4 408.5A87.4 87.4 0 0 1 145.0 399.7L152.8 398.0A79.4 79.4 0 0 0 154.9 406.0ZM152.8 398.0L145.0 399.7A87.4 87.4 0 0 1 143.6 390.6L151.5 389.8A79.4 79.4 0 0 0 152.8 398.0ZM152.8 365.0L145.0 363.3A87.4 87.4 0 0 1 147.4 354.5L154.9 357.0A79.4 79.4 0 0 0 152.8 365.0ZM190.8 312.7L186.8 305.8A87.4 87.4 0 0 1 195.0 301.7L198.2 308.9A79.4 79.4 0 0 0 190.8 312.7ZM262.1 300.0L264.9 292.6A95.3 95.3 0 0 1 273.0 296.2L269.5 303.3A87.4 87.4 0 0 0 262.1 300.0ZM269.5 303.3L273.0 296.2A95.3 95.3 0 0 1 280.7 300.4L276.5 307.2A87.4 87.4 0 0 0 269.5 303.3ZM317.9 381.5L325.8 381.5A95.3 95.3 0 0 1 325.4 390.3L317.5 389.6A87.4 87.4 0 0 0 317.9 381.5ZM317.5 389.6L325.4 390.3A95.3 95.3 0 0 1 324.2 399.0L316.4 397.6A87.4 87.4 0 0 0 317.5 389.6ZM254.4 465.6L256.6 473.2A95.3 95.3 0 0 1 248.0 475.2L246.6 467.4A87.4 87.4 0 0 0 254.4 465.6ZM246.6 467.4L248.0 475.2A95.3 95.3 0 0 1 239.3 476.4L238.6 468.5A87.4 87.4 0 0 0 246.6 467.4ZM171.6 316.9L166.3 311.0A95.3 95.3 0 0 1 173.0 305.4L177.8 311.8A87.4 87.4 0 0 0 171.6 316.9ZM184.5 307.2L180.3 300.4A95.3 95.3 0 0 1 188.0 296.2L191.5 303.3A87.4 87.4 0 0 0 184.5 307.2ZM191.5 303.3L188.0 296.2A95.3 95.3 0 0 1 196.1 292.6L198.9 300.0A87.4 87.4 0 0 0 191.5 303.3ZM308.6 326.8L315.1 322.3A103.3 103.3 0 0 1 319.9 329.9L313.1 333.8A95.3 95.3 0 0 0 308.6 326.8ZM322.6 356.8L330.3 354.8A103.3 103.3 0 0 1 332.2 363.6L324.4 364.9A95.3 95.3 0 0 0 322.6 356.8ZM325.5 389.8L333.4 390.5A103.3 103.3 0 0 1 332.2 399.4L324.4 398.1A95.3 95.3 0 0 0 325.5 389.8ZM324.4 398.1L332.2 399.4A103.3 103.3 0 0 1 330.3 408.2L322.6 406.2A95.3 95.3 0 0 0 324.4 398.1ZM213.9 475.4L212.6 483.2A103.3 103.3 0 0 1 203.8 481.3L205.8 473.6A95.3 95.3 0 0 0 213.9 475.4ZM136.6 398.1L128.8 399.4A103.3 103.3 0 0 1 127.6 390.5L135.5 389.8A95.3 95.3 0 0 0 136.6 398.1ZM147.9 333.8L141.1 329.9A103.3 103.3 0 0 1 145.9 322.3L152.4 326.8A95.3 95.3 0 0 0 147.9 333.8ZM152.4 326.8L145.9 322.3A103.3 103.3 0 0 1 151.4 315.1L157.5 320.2A95.3 95.3 0 0 0 152.4 326.8ZM157.5 320.2L151.4 315.1A103.3 103.3 0 0 1 157.5 308.5L163.1 314.1A95.3 95.3 0 0 0 157.5 320.2ZM163.1 314.1L157.5 308.5A103.3 103.3 0 0 1 164.1 302.4L169.2 308.5A95.3 95.3 0 0 0 163.1 314.1ZM190.2 295.1L186.9 287.9A103.3 103.3 0 0 1 195.2 284.5L197.9 291.9A95.3 95.3 0 0 0 190.2 295.1ZM205.8 289.4L203.8 281.7A103.3 103.3 0 0 1 212.6 279.8L213.9 287.6A95.3 95.3 0 0 0 205.8 289.4ZM315.1 322.3L321.6 317.7A111.2 111.2 0 0 1 326.8 325.9L319.9 329.9A103.3 103.3 0 0 0 315.1 322.3ZM333.4 390.5L341.3 391.2A111.2 111.2 0 0 1 340.0 400.8L332.2 399.4A103.3 103.3 0 0 0 333.4 390.5ZM332.2 399.4L340.0 400.8A111.2 111.2 0 0 1 337.9 410.3L330.3 408.2A103.3 103.3 0 0 0 332.2 399.4ZM239.5 484.4L240.2 492.3A111.2 111.2 0 0 1 230.5 492.7L230.5 484.8A103.3 103.3 0 0 0 239.5 484.4ZM221.5 484.4L220.8 492.3A111.2 111.2 0 0 1 211.2 491.0L212.6 483.2A103.3 103.3 0 0 0 221.5 484.4ZM171.3 466.1L166.7 472.6A111.2 111.2 0 0 1 159.0 466.7L164.1 460.6A103.3 103.3 0 0 0 171.3 466.1ZM151.4 447.9L145.3 453.0A111.2 111.2 0 0 1 139.4 445.3L145.9 440.7A103.3 103.3 0 0 0 151.4 447.9ZM128.8 399.4L121.0 400.8A111.2 111.2 0 0 1 119.7 391.2L127.6 390.5A103.3 103.3 0 0 0 128.8 399.4ZM127.6 390.5L119.7 391.2A111.2 111.2 0 0 1 119.3 381.5L127.2 381.5A103.3 103.3 0 0 0 127.6 390.5ZM136.9 337.9L129.7 334.5A111.2 111.2 0 0 1 134.2 325.9L141.1 329.9A103.3 103.3 0 0 0 136.9 337.9ZM151.4 315.1L145.3 310.0A111.2 111.2 0 0 1 151.9 302.9L157.5 308.5A103.3 103.3 0 0 0 151.4 315.1ZM157.5 308.5L151.9 302.9A111.2 111.2 0 0 1 159.0 296.3L164.1 302.4A103.3 103.3 0 0 0 157.5 308.5ZM164.1 302.4L159.0 296.3A111.2 111.2 0 0 1 166.7 290.4L171.3 296.9A103.3 103.3 0 0 0 164.1 302.4ZM195.2 284.5L192.5 277.0A111.2 111.2 0 0 1 201.7 274.1L203.8 281.7A103.3 103.3 0 0 0 195.2 284.5ZM203.8 281.7L201.7 274.1A111.2 111.2 0 0 1 211.2 272.0L212.6 279.8A103.3 103.3 0 0 0 203.8 281.7ZM341.7 381.5L349.7 381.5A119.2 119.2 0 0 1 349.2 391.9L341.3 391.2A111.2 111.2 0 0 0 341.7 381.5ZM337.9 410.3L345.6 412.3A119.2 119.2 0 0 1 342.5 422.3L335.0 419.5A111.2 111.2 0 0 0 337.9 410.3ZM240.2 492.3L240.9 500.2A119.2 119.2 0 0 1 230.5 500.7L230.5 492.7A111.2 111.2 0 0 0 240.2 492.3ZM166.7 472.6L162.1 479.1A119.2 119.2 0 0 1 153.9 472.8L159.0 466.7A111.2 111.2 0 0 0 166.7 472.6ZM145.3 453.0L139.2 458.1A119.2 119.2 0 0 1 132.9 449.9L139.4 445.3A111.2 111.2 0 0 0 145.3 453.0ZM129.7 428.5L122.5 431.9A119.2 119.2 0 0 1 118.5 422.3L126.0 419.5A111.2 111.2 0 0 0 129.7 428.5ZM123.1 410.3L115.4 412.3A119.2 119.2 0 0 1 113.1 402.2L121.0 400.8A111.2 111.2 0 0 0 123.1 410.3ZM121.0 400.8L113.1 402.2A119.2 119.2 0 0 1 111.8 391.9L119.7 391.2A111.2 111.2 0 0 0 121.0 400.8ZM119.7 391.2L111.8 391.9A119.2 119.2 0 0 1 111.3 381.5L119.3 381.5A111.2 111.2 0 0 0 119.7 391.2ZM145.3 310.0L139.2 304.9A119.2 119.2 0 0 1 146.2 297.2L151.9 302.9A111.2 111.2 0 0 0 145.3 310.0ZM174.9 285.2L170.9 278.3A119.2 119.2 0 0 1 180.1 273.5L183.5 280.7A111.2 111.2 0 0 0 174.9 285.2ZM201.7 274.1L199.7 266.4A119.2 119.2 0 0 1 209.8 264.1L211.2 272.0A111.2 111.2 0 0 0 201.7 274.1ZM349.7 381.5L357.6 381.5A127.1 127.1 0 0 1 357.1 392.6L349.2 391.9A119.2 119.2 0 0 0 349.7 381.5ZM349.2 391.9L357.1 392.6A127.1 127.1 0 0 1 355.7 403.6L347.9 402.2A119.2 119.2 0 0 0 349.2 391.9ZM307.1 472.8L312.2 478.9A127.1 127.1 0 0 1 303.4 485.6L298.9 479.1A119.2 119.2 0 0 0 307.1 472.8ZM240.9 500.2L241.6 508.1A127.1 127.1 0 0 1 230.5 508.6L230.5 500.7A119.2 119.2 0 0 0 240.9 500.2ZM162.1 479.1L157.6 485.6A127.1 127.1 0 0 1 148.8 478.9L153.9 472.8A119.2 119.2 0 0 0 162.1 479.1ZM122.5 431.9L115.3 435.2A127.1 127.1 0 0 1 111.1 425.0L118.5 422.3A119.2 119.2 0 0 0 122.5 431.9ZM115.4 412.3L107.7 414.4A127.1 127.1 0 0 1 105.3 403.6L113.1 402.2A119.2 119.2 0 0 0 115.4 412.3ZM162.1 283.9L157.6 277.4A127.1 127.1 0 0 1 166.9 271.4L170.9 278.3A119.2 119.2 0 0 0 162.1 283.9ZM170.9 278.3L166.9 271.4A127.1 127.1 0 0 1 176.8 266.3L180.1 273.5A119.2 119.2 0 0 0 170.9 278.3ZM263.4 258.7L265.5 251.0A135.1 135.1 0 0 1 276.7 254.6L274.0 262.1A127.1 127.1 0 0 0 263.4 258.7ZM284.2 266.3L287.6 259.1A135.1 135.1 0 0 1 298.0 264.5L294.1 271.4A127.1 127.1 0 0 0 284.2 266.3ZM312.2 284.1L317.3 278.0A135.1 135.1 0 0 1 326.0 286.0L320.4 291.6A127.1 127.1 0 0 0 312.2 284.1ZM349.9 338.0L357.4 335.3A135.1 135.1 0 0 1 361.0 346.5L353.3 348.6A127.1 127.1 0 0 0 349.9 338.0ZM357.6 381.5L365.6 381.5A135.1 135.1 0 0 1 365.0 393.3L357.1 392.6A127.1 127.1 0 0 0 357.6 381.5ZM357.1 392.6L365.0 393.3A135.1 135.1 0 0 1 363.5 405.0L355.7 403.6A127.1 127.1 0 0 0 357.1 392.6ZM241.6 508.1L242.3 516.0A135.1 135.1 0 0 1 230.5 516.6L230.5 508.6A127.1 127.1 0 0 0 241.6 508.1ZM230.5 508.6L230.5 516.6A135.1 135.1 0 0 1 218.7 516.0L219.4 508.1A127.1 127.1 0 0 0 230.5 508.6ZM187.0 500.9L184.3 508.4A135.1 135.1 0 0 1 173.4 503.9L176.8 496.7A127.1 127.1 0 0 0 187.0 500.9ZM176.8 496.7L173.4 503.9A135.1 135.1 0 0 1 163.0 498.5L166.9 491.6A127.1 127.1 0 0 0 176.8 496.7ZM111.1 338.0L103.6 335.3A135.1 135.1 0 0 1 108.1 324.4L115.3 327.8A127.1 127.1 0 0 0 111.1 338.0ZM157.6 277.4L153.0 270.9A135.1 135.1 0 0 1 163.0 264.5L166.9 271.4A127.1 127.1 0 0 0 157.6 277.4ZM166.9 271.4L163.0 264.5A135.1 135.1 0 0 1 173.4 259.1L176.8 266.3A127.1 127.1 0 0 0 166.9 271.4ZM219.4 254.9L218.7 247.0A135.1 135.1 0 0 1 230.5 246.4L230.5 254.4A127.1 127.1 0 0 0 219.4 254.9ZM265.5 251.0L267.5 243.4A143.0 143.0 0 0 1 279.4 247.1L276.7 254.6A135.1 135.1 0 0 0 265.5 251.0ZM317.3 278.0L322.4 272.0A143.0 143.0 0 0 1 331.6 280.4L326.0 286.0A135.1 135.1 0 0 0 317.3 278.0ZM357.4 335.3L364.9 332.6A143.0 143.0 0 0 1 368.6 344.5L361.0 346.5A135.1 135.1 0 0 0 357.4 335.3ZM361.0 346.5L368.6 344.5A143.0 143.0 0 0 1 371.3 356.7L363.5 358.0A135.1 135.1 0 0 0 361.0 346.5ZM365.6 381.5L373.5 381.5A143.0 143.0 0 0 1 373.0 394.0L365.0 393.3A135.1 135.1 0 0 0 365.6 381.5ZM365.0 393.3L373.0 394.0A143.0 143.0 0 0 1 371.3 406.3L363.5 405.0A135.1 135.1 0 0 0 365.0 393.3ZM363.5 405.0L371.3 406.3A143.0 143.0 0 0 1 368.6 418.5L361.0 416.5A135.1 135.1 0 0 0 363.5 405.0ZM341.1 459.0L347.6 463.5A143.0 143.0 0 0 1 340.0 473.4L334.0 468.3A135.1 135.1 0 0 0 341.1 459.0ZM287.6 503.9L290.9 511.1A143.0 143.0 0 0 1 279.4 515.9L276.7 508.4A135.1 135.1 0 0 0 287.6 503.9ZM242.3 516.0L243.0 524.0A143.0 143.0 0 0 1 230.5 524.5L230.5 516.6A135.1 135.1 0 0 0 242.3 516.0ZM230.5 516.6L230.5 524.5A143.0 143.0 0 0 1 218.0 524.0L218.7 516.0A135.1 135.1 0 0 0 230.5 516.6ZM184.3 508.4L181.6 515.9A143.0 143.0 0 0 1 170.1 511.1L173.4 503.9A135.1 135.1 0 0 0 184.3 508.4ZM153.0 492.1L148.5 498.6A143.0 143.0 0 0 1 138.6 491.0L143.7 485.0A135.1 135.1 0 0 0 153.0 492.1ZM103.6 427.7L96.1 430.4A143.0 143.0 0 0 1 92.4 418.5L100.0 416.5A135.1 135.1 0 0 0 103.6 427.7ZM96.0 393.3L88.0 394.0A143.0 143.0 0 0 1 87.5 381.5L95.4 381.5A135.1 135.1 0 0 0 96.0 393.3ZM119.9 304.0L113.4 299.5A143.0 143.0 0 0 1 121.0 289.6L127.0 294.7A135.1 135.1 0 0 0 119.9 304.0ZM218.7 247.0L218.0 239.0A143.0 143.0 0 0 1 230.5 238.5L230.5 246.4A135.1 135.1 0 0 0 218.7 247.0Z"/>
<path fill="#efeac4" stroke="#efeac4" stroke-width="0.6" d="M245.2 375.4L252.5 372.4A23.8 23.8 0 0 1 254.3 381.5L246.4 381.5A15.9 15.9 0 0 0 245.2 375.4ZM230.5 405.3L230.5 413.3A31.8 31.8 0 0 1 220.7 411.7L223.1 404.2A23.8 23.8 0 0 0 230.5 405.3ZM211.2 367.5L204.8 362.8A31.8 31.8 0 0 1 211.8 355.8L216.5 362.2A23.8 23.8 0 0 0 211.2 367.5ZM259.1 395.3L266.3 398.7A39.7 39.7 0 0 1 261.6 406.3L255.3 401.3A31.8 31.8 0 0 0 259.1 395.3ZM255.3 401.3L261.6 406.3A39.7 39.7 0 0 1 255.3 412.6L250.3 406.3A31.8 31.8 0 0 0 255.3 401.3ZM216.7 410.1L213.3 417.3A39.7 39.7 0 0 1 205.7 412.6L210.7 406.3A31.8 31.8 0 0 0 216.7 410.1ZM223.4 350.5L221.7 342.8A39.7 39.7 0 0 1 230.5 341.8L230.5 349.7A31.8 31.8 0 0 0 223.4 350.5ZM263.5 403.6L270.1 408.0A47.7 47.7 0 0 1 264.2 415.2L258.6 409.6A39.7 39.7 0 0 0 263.5 403.6ZM222.8 342.5L221.2 334.7A47.7 47.7 0 0 1 230.5 333.8L230.5 341.8A39.7 39.7 0 0 0 222.8 342.5ZM254.3 340.2L258.3 333.3A55.6 55.6 0 0 1 266.2 338.9L261.1 345.0A47.7 47.7 0 0 0 254.3 340.2ZM271.8 405.3L278.7 409.3A55.6 55.6 0 0 1 273.1 417.2L267.0 412.1A47.7 47.7 0 0 0 271.8 405.3ZM185.7 397.8L178.2 400.5A55.6 55.6 0 0 1 175.7 391.2L183.6 389.8A47.7 47.7 0 0 0 185.7 397.8ZM281.1 404.6L288.3 407.9A63.6 63.6 0 0 1 284.0 415.9L277.3 411.6A55.6 55.6 0 0 0 281.1 404.6ZM277.3 411.6L284.0 415.9A63.6 63.6 0 0 1 278.5 423.1L272.5 417.9A55.6 55.6 0 0 0 277.3 411.6ZM272.5 417.9L278.5 423.1A63.6 63.6 0 0 1 272.1 429.5L266.9 423.5A55.6 55.6 0 0 0 272.5 417.9ZM285.5 413.3L292.4 417.2A71.5 71.5 0 0 1 287.2 425.0L280.9 420.2A63.6 63.6 0 0 0 285.5 413.3ZM280.9 420.2L287.2 425.0A71.5 71.5 0 0 1 281.1 432.1L275.4 426.4A63.6 63.6 0 0 0 280.9 420.2ZM171.8 405.8L164.4 408.9A71.5 71.5 0 0 1 161.4 400.0L169.1 397.9A63.6 63.6 0 0 0 171.8 405.8ZM169.1 397.9L161.4 400.0A71.5 71.5 0 0 1 159.6 390.8L167.5 389.8A63.6 63.6 0 0 0 169.1 397.9ZM175.5 349.7L168.6 345.8A71.5 71.5 0 0 1 173.8 338.0L180.1 342.8A63.6 63.6 0 0 0 175.5 349.7ZM180.1 342.8L173.8 338.0A71.5 71.5 0 0 1 179.9 330.9L185.6 336.6A63.6 63.6 0 0 0 180.1 342.8ZM277.2 317.2L281.9 310.8A87.4 87.4 0 0 1 289.0 316.6L283.7 322.5A79.4 79.4 0 0 0 277.2 317.2ZM283.7 322.5L289.0 316.6A87.4 87.4 0 0 1 295.4 323.0L289.5 328.3A79.4 79.4 0 0 0 283.7 322.5ZM289.5 328.3L295.4 323.0A87.4 87.4 0 0 1 301.2 330.1L294.8 334.8A79.4 79.4 0 0 0 289.5 328.3ZM190.8 450.3L186.8 457.2A87.4 87.4 0 0 1 179.1 452.2L183.8 445.8A79.4 79.4 0 0 0 190.8 450.3ZM161.7 341.8L154.8 337.8A87.4 87.4 0 0 1 159.8 330.1L166.2 334.8A79.4 79.4 0 0 0 161.7 341.8ZM171.5 328.3L165.6 323.0A87.4 87.4 0 0 1 172.0 316.6L177.3 322.5A79.4 79.4 0 0 0 171.5 328.3ZM246.6 295.6L248.0 287.8A95.3 95.3 0 0 1 256.6 289.8L254.4 297.4A87.4 87.4 0 0 0 246.6 295.6ZM316.4 365.4L324.2 364.0A95.3 95.3 0 0 1 325.4 372.7L317.5 373.4A87.4 87.4 0 0 0 316.4 365.4ZM222.4 294.5L221.7 286.6A95.3 95.3 0 0 1 230.5 286.2L230.5 294.1A87.4 87.4 0 0 0 222.4 294.5ZM239.5 278.6L240.2 270.7A111.2 111.2 0 0 1 249.8 272.0L248.4 279.8A103.3 103.3 0 0 0 239.5 278.6ZM257.2 281.7L259.3 274.1A111.2 111.2 0 0 1 268.5 277.0L265.8 284.5A103.3 103.3 0 0 0 257.2 281.7ZM319.9 433.1L326.8 437.1A111.2 111.2 0 0 1 321.6 445.3L315.1 440.7A103.3 103.3 0 0 0 319.9 433.1ZM315.1 440.7L321.6 445.3A111.2 111.2 0 0 1 315.7 453.0L309.6 447.9A103.3 103.3 0 0 0 315.1 440.7ZM186.9 475.1L183.5 482.3A111.2 111.2 0 0 1 174.9 477.8L178.9 470.9A103.3 103.3 0 0 0 186.9 475.1ZM240.2 270.7L240.9 262.8A119.2 119.2 0 0 1 251.2 264.1L249.8 272.0A111.2 111.2 0 0 0 240.2 270.7ZM249.8 272.0L251.2 264.1A119.2 119.2 0 0 1 261.3 266.4L259.3 274.1A111.2 111.2 0 0 0 249.8 272.0ZM286.1 477.8L290.1 484.7A119.2 119.2 0 0 1 280.9 489.5L277.5 482.3A111.2 111.2 0 0 0 286.1 477.8ZM259.3 488.9L261.3 496.6A119.2 119.2 0 0 1 251.2 498.9L249.8 491.0A111.2 111.2 0 0 0 259.3 488.9ZM151.9 460.1L146.2 465.8A119.2 119.2 0 0 1 139.2 458.1L145.3 453.0A111.2 111.2 0 0 0 151.9 460.1ZM119.3 381.5L111.3 381.5A119.2 119.2 0 0 1 111.8 371.1L119.7 371.8A111.2 111.2 0 0 0 119.3 381.5ZM119.7 371.8L111.8 371.1A119.2 119.2 0 0 1 113.1 360.8L121.0 362.2A111.2 111.2 0 0 0 119.7 371.8ZM121.0 362.2L113.1 360.8A119.2 119.2 0 0 1 115.4 350.7L123.1 352.7A111.2 111.2 0 0 0 121.0 362.2ZM123.1 352.7L115.4 350.7A119.2 119.2 0 0 1 118.5 340.7L126.0 343.5A111.2 111.2 0 0 0 123.1 352.7ZM240.9 262.8L241.6 254.9A127.1 127.1 0 0 1 252.6 256.3L251.2 264.1A119.2 119.2 0 0 0 240.9 262.8ZM321.8 304.9L327.9 299.8A127.1 127.1 0 0 1 334.6 308.6L328.1 313.1A119.2 119.2 0 0 0 321.8 304.9ZM298.9 479.1L303.4 485.6A127.1 127.1 0 0 1 294.1 491.6L290.1 484.7A119.2 119.2 0 0 0 298.9 479.1ZM261.3 496.6L263.4 504.3A127.1 127.1 0 0 1 252.6 506.7L251.2 498.9A119.2 119.2 0 0 0 261.3 496.6ZM146.2 465.8L140.6 471.4A127.1 127.1 0 0 1 133.1 463.2L139.2 458.1A119.2 119.2 0 0 0 146.2 465.8ZM132.9 449.9L126.4 454.4A127.1 127.1 0 0 1 120.4 445.1L127.3 441.1A119.2 119.2 0 0 0 132.9 449.9ZM111.3 381.5L103.4 381.5A127.1 127.1 0 0 1 103.9 370.4L111.8 371.1A119.2 119.2 0 0 0 111.3 381.5ZM111.8 371.1L103.9 370.4A127.1 127.1 0 0 1 105.3 359.4L113.1 360.8A119.2 119.2 0 0 0 111.8 371.1ZM113.1 360.8L105.3 359.4A127.1 127.1 0 0 1 107.7 348.6L115.4 350.7A119.2 119.2 0 0 0 113.1 360.8ZM115.4 350.7L107.7 348.6A127.1 127.1 0 0 1 111.1 338.0L118.5 340.7A119.2 119.2 0 0 0 115.4 350.7ZM241.6 254.9L242.3 247.0A135.1 135.1 0 0 1 254.0 248.5L252.6 256.3A127.1 127.1 0 0 0 241.6 254.9ZM327.9 299.8L334.0 294.7A135.1 135.1 0 0 1 341.1 304.0L334.6 308.6A127.1 127.1 0 0 0 327.9 299.8ZM294.1 491.6L298.0 498.5A135.1 135.1 0 0 1 287.6 503.9L284.2 496.7A127.1 127.1 0 0 0 294.1 491.6ZM140.6 471.4L135.0 477.0A135.1 135.1 0 0 1 127.0 468.3L133.1 463.2A127.1 127.1 0 0 0 140.6 471.4ZM126.4 454.4L119.9 459.0A135.1 135.1 0 0 1 113.5 449.0L120.4 445.1A127.1 127.1 0 0 0 126.4 454.4ZM103.4 381.5L95.4 381.5A135.1 135.1 0 0 1 96.0 369.7L103.9 370.4A127.1 127.1 0 0 0 103.4 381.5ZM103.9 370.4L96.0 369.7A135.1 135.1 0 0 1 97.5 358.0L105.3 359.4A127.1 127.1 0 0 0 103.9 370.4ZM105.3 359.4L97.5 358.0A135.1 135.1 0 0 1 100.0 346.5L107.7 348.6A127.1 127.1 0 0 0 105.3 359.4ZM242.3 247.0L243.0 239.0A143.0 143.0 0 0 1 255.3 240.7L254.0 248.5A135.1 135.1 0 0 0 242.3 247.0ZM326.0 286.0L331.6 280.4A143.0 143.0 0 0 1 340.0 289.6L334.0 294.7A135.1 135.1 0 0 0 326.0 286.0ZM276.7 508.4L279.4 515.9A143.0 143.0 0 0 1 267.5 519.6L265.5 512.0A135.1 135.1 0 0 0 276.7 508.4ZM265.5 512.0L267.5 519.6A143.0 143.0 0 0 1 255.3 522.3L254.0 514.5A135.1 135.1 0 0 0 265.5 512.0ZM95.4 381.5L87.5 381.5A143.0 143.0 0 0 1 88.0 369.0L96.0 369.7A135.1 135.1 0 0 0 95.4 381.5ZM96.0 369.7L88.0 369.0A143.0 143.0 0 0 1 89.7 356.7L97.5 358.0A135.1 135.1 0 0 0 96.0 369.7ZM97.5 358.0L89.7 356.7A143.0 143.0 0 0 1 92.4 344.5L100.0 346.5A135.1 135.1 0 0 0 97.5 358.0ZM135.0 286.0L129.4 280.4A143.0 143.0 0 0 1 138.6 272.0L143.7 278.0A135.1 135.1 0 0 0 135.0 286.0Z"/>
<path fill="#e0f3f8" stroke="#e0f3f8" stroke-width="0.6" d="M253.2 388.9L260.7 391.3A31.8 31.8 0 0 1 256.2 400.2L249.8 395.5A23.8 23.8 0 0 0 253.2 388.9ZM216.5 362.2L211.8 355.8A31.8 31.8 0 0 1 220.7 351.3L223.1 358.8A23.8 23.8 0 0 0 216.5 362.2ZM223.1 358.8L220.7 351.3A31.8 31.8 0 0 1 230.5 349.7L230.5 357.7A23.8 23.8 0 0 0 223.1 358.8ZM223.4 412.5L221.7 420.2A39.7 39.7 0 0 1 213.3 417.3L216.7 410.1A31.8 31.8 0 0 0 223.4 412.5ZM210.7 406.3L205.7 412.6A39.7 39.7 0 0 1 199.4 406.3L205.7 401.3A31.8 31.8 0 0 0 210.7 406.3ZM205.7 401.3L199.4 406.3A39.7 39.7 0 0 1 194.7 398.7L201.9 395.3A31.8 31.8 0 0 0 205.7 401.3ZM201.9 395.3L194.7 398.7A39.7 39.7 0 0 1 191.8 390.3L199.5 388.6A31.8 31.8 0 0 0 201.9 395.3ZM216.7 352.9L213.3 345.7A39.7 39.7 0 0 1 221.7 342.8L223.4 350.5A31.8 31.8 0 0 0 216.7 352.9ZM252.6 348.5L257.0 341.9A47.7 47.7 0 0 1 264.2 347.8L258.6 353.4A39.7 39.7 0 0 0 252.6 348.5ZM215.3 344.8L212.3 337.5A47.7 47.7 0 0 1 221.2 334.7L222.8 342.5A39.7 39.7 0 0 0 215.3 344.8ZM230.5 333.8L230.5 325.9A55.6 55.6 0 0 1 240.2 326.7L238.8 334.6A47.7 47.7 0 0 0 230.5 333.8ZM267.0 412.1L273.1 417.2A55.6 55.6 0 0 1 266.2 424.1L261.1 418.0A47.7 47.7 0 0 0 267.0 412.1ZM238.8 428.4L240.2 436.3A55.6 55.6 0 0 1 230.5 437.1L230.5 429.2A47.7 47.7 0 0 0 238.8 428.4ZM183.6 389.8L175.7 391.2A55.6 55.6 0 0 1 174.9 381.5L182.8 381.5A47.7 47.7 0 0 0 183.6 389.8ZM230.5 325.9L230.5 317.9A63.6 63.6 0 0 1 239.5 318.6L238.4 326.5A55.6 55.6 0 0 0 230.5 325.9ZM266.9 339.5L272.1 333.5A63.6 63.6 0 0 1 278.5 339.9L272.5 345.1A55.6 55.6 0 0 0 266.9 339.5ZM238.4 436.5L239.5 444.4A63.6 63.6 0 0 1 230.5 445.1L230.5 437.1A55.6 55.6 0 0 0 238.4 436.5ZM246.9 442.9L249.0 450.6A71.5 71.5 0 0 1 239.8 452.4L238.8 444.5A63.6 63.6 0 0 0 246.9 442.9ZM275.1 325.6L280.0 319.4A79.4 79.4 0 0 1 286.7 325.3L281.1 330.9A71.5 71.5 0 0 0 275.1 325.6ZM281.1 330.9L286.7 325.3A79.4 79.4 0 0 1 292.6 332.0L286.4 336.9A71.5 71.5 0 0 0 281.1 330.9ZM291.0 419.5L297.8 423.8A79.4 79.4 0 0 1 292.6 431.0L286.4 426.1A71.5 71.5 0 0 0 291.0 419.5ZM179.9 330.9L174.3 325.3A79.4 79.4 0 0 1 181.0 319.4L185.9 325.6A71.5 71.5 0 0 0 179.9 330.9ZM306.1 357.0L313.6 354.5A87.4 87.4 0 0 1 316.0 363.3L308.2 365.0A79.4 79.4 0 0 0 306.1 357.0ZM299.3 421.2L306.2 425.2A87.4 87.4 0 0 1 301.2 432.9L294.8 428.2A79.4 79.4 0 0 0 299.3 421.2ZM206.0 457.1L203.5 464.6A87.4 87.4 0 0 1 195.0 461.3L198.2 454.1A79.4 79.4 0 0 0 206.0 457.1ZM151.1 381.5L143.1 381.5A87.4 87.4 0 0 1 143.6 372.4L151.5 373.2A79.4 79.4 0 0 0 151.1 381.5ZM222.2 302.5L221.4 294.6A87.4 87.4 0 0 1 230.5 294.1L230.5 302.1A79.4 79.4 0 0 0 222.2 302.5ZM283.2 311.8L288.0 305.4A95.3 95.3 0 0 1 294.7 311.0L289.4 316.9A87.4 87.4 0 0 0 283.2 311.8ZM289.4 316.9L294.7 311.0A95.3 95.3 0 0 1 301.0 317.3L295.1 322.6A87.4 87.4 0 0 0 289.4 316.9ZM295.1 322.6L301.0 317.3A95.3 95.3 0 0 1 306.6 324.0L300.2 328.8A87.4 87.4 0 0 0 295.1 322.6ZM308.7 420.5L315.8 424.0A95.3 95.3 0 0 1 311.6 431.7L304.8 427.5A87.4 87.4 0 0 0 308.7 420.5ZM184.5 455.8L180.3 462.6A95.3 95.3 0 0 1 173.0 457.6L177.8 451.2A87.4 87.4 0 0 0 184.5 455.8ZM171.6 446.1L166.3 452.0A95.3 95.3 0 0 1 160.0 445.7L165.9 440.4A87.4 87.4 0 0 0 171.6 446.1ZM156.2 427.5L149.4 431.7A95.3 95.3 0 0 1 145.2 424.0L152.3 420.5A87.4 87.4 0 0 0 156.2 427.5ZM143.1 381.5L135.2 381.5A95.3 95.3 0 0 1 135.6 372.7L143.5 373.4A87.4 87.4 0 0 0 143.1 381.5ZM160.8 328.8L154.4 324.0A95.3 95.3 0 0 1 160.0 317.3L165.9 322.6A87.4 87.4 0 0 0 160.8 328.8ZM238.8 286.5L239.5 278.6A103.3 103.3 0 0 1 248.4 279.8L247.1 287.6A95.3 95.3 0 0 0 238.8 286.5ZM255.2 289.4L257.2 281.7A103.3 103.3 0 0 1 265.8 284.5L263.1 291.9A95.3 95.3 0 0 0 255.2 289.4ZM182.8 464.1L178.9 470.9A103.3 103.3 0 0 1 171.3 466.1L175.8 459.6A95.3 95.3 0 0 0 182.8 464.1ZM135.2 381.5L127.2 381.5A103.3 103.3 0 0 1 127.6 372.5L135.5 373.2A95.3 95.3 0 0 0 135.2 381.5ZM140.9 348.9L133.5 346.2A103.3 103.3 0 0 1 136.9 337.9L144.1 341.2A95.3 95.3 0 0 0 140.9 348.9ZM222.2 286.5L221.5 278.6A103.3 103.3 0 0 1 230.5 278.2L230.5 286.2A95.3 95.3 0 0 0 222.2 286.5ZM324.1 425.1L331.3 428.5A111.2 111.2 0 0 1 326.8 437.1L319.9 433.1A103.3 103.3 0 0 0 324.1 425.1ZM289.7 466.1L294.3 472.6A111.2 111.2 0 0 1 286.1 477.8L282.1 470.9A103.3 103.3 0 0 0 289.7 466.1ZM282.1 470.9L286.1 477.8A111.2 111.2 0 0 1 277.5 482.3L274.1 475.1A103.3 103.3 0 0 0 282.1 470.9ZM257.2 481.3L259.3 488.9A111.2 111.2 0 0 1 249.8 491.0L248.4 483.2A103.3 103.3 0 0 0 257.2 481.3ZM157.5 454.5L151.9 460.1A111.2 111.2 0 0 1 145.3 453.0L151.4 447.9A103.3 103.3 0 0 0 157.5 454.5ZM127.2 381.5L119.3 381.5A111.2 111.2 0 0 1 119.7 371.8L127.6 372.5A103.3 103.3 0 0 0 127.2 381.5ZM130.7 354.8L123.1 352.7A111.2 111.2 0 0 1 126.0 343.5L133.5 346.2A103.3 103.3 0 0 0 130.7 354.8ZM259.3 274.1L261.3 266.4A119.2 119.2 0 0 1 271.3 269.5L268.5 277.0A111.2 111.2 0 0 0 259.3 274.1ZM315.7 310.0L321.8 304.9A119.2 119.2 0 0 1 328.1 313.1L321.6 317.7A111.2 111.2 0 0 0 315.7 310.0ZM294.3 472.6L298.9 479.1A119.2 119.2 0 0 1 290.1 484.7L286.1 477.8A111.2 111.2 0 0 0 294.3 472.6ZM249.8 491.0L251.2 498.9A119.2 119.2 0 0 1 240.9 500.2L240.2 492.3A111.2 111.2 0 0 0 249.8 491.0ZM183.5 482.3L180.1 489.5A119.2 119.2 0 0 1 170.9 484.7L174.9 477.8A111.2 111.2 0 0 0 183.5 482.3ZM134.2 437.1L127.3 441.1A119.2 119.2 0 0 1 122.5 431.9L129.7 428.5A111.2 111.2 0 0 0 134.2 437.1ZM251.2 264.1L252.6 256.3A127.1 127.1 0 0 1 263.4 258.7L261.3 266.4A119.2 119.2 0 0 0 251.2 264.1ZM290.1 484.7L294.1 491.6A127.1 127.1 0 0 1 284.2 496.7L280.9 489.5A119.2 119.2 0 0 0 290.1 484.7ZM146.2 297.2L140.6 291.6A127.1 127.1 0 0 1 148.8 284.1L153.9 290.2A119.2 119.2 0 0 0 146.2 297.2ZM189.7 269.5L187.0 262.1A127.1 127.1 0 0 1 197.6 258.7L199.7 266.4A119.2 119.2 0 0 0 189.7 269.5ZM252.6 256.3L254.0 248.5A135.1 135.1 0 0 1 265.5 251.0L263.4 258.7A127.1 127.1 0 0 0 252.6 256.3ZM320.4 291.6L326.0 286.0A135.1 135.1 0 0 1 334.0 294.7L327.9 299.8A127.1 127.1 0 0 0 320.4 291.6ZM274.0 500.9L276.7 508.4A135.1 135.1 0 0 1 265.5 512.0L263.4 504.3A127.1 127.1 0 0 0 274.0 500.9ZM148.8 478.9L143.7 485.0A135.1 135.1 0 0 1 135.0 477.0L140.6 471.4A127.1 127.1 0 0 0 148.8 478.9ZM120.4 445.1L113.5 449.0A135.1 135.1 0 0 1 108.1 438.6L115.3 435.2A127.1 127.1 0 0 0 120.4 445.1ZM140.6 291.6L135.0 286.0A135.1 135.1 0 0 1 143.7 278.0L148.8 284.1A127.1 127.1 0 0 0 140.6 291.6ZM148.8 284.1L143.7 278.0A135.1 135.1 0 0 1 153.0 270.9L157.6 277.4A127.1 127.1 0 0 0 148.8 284.1ZM334.0 294.7L340.0 289.6A143.0 143.0 0 0 1 347.6 299.5L341.1 304.0A135.1 135.1 0 0 0 334.0 294.7ZM298.0 498.5L302.0 505.3A143.0 143.0 0 0 1 290.9 511.1L287.6 503.9A135.1 135.1 0 0 0 298.0 498.5ZM143.7 485.0L138.6 491.0A143.0 143.0 0 0 1 129.4 482.6L135.0 477.0A135.1 135.1 0 0 0 143.7 485.0ZM127.0 468.3L121.0 473.4A143.0 143.0 0 0 1 113.4 463.5L119.9 459.0A135.1 135.1 0 0 0 127.0 468.3ZM119.9 459.0L113.4 463.5A143.0 143.0 0 0 1 106.7 453.0L113.5 449.0A135.1 135.1 0 0 0 119.9 459.0Z"/>
<path fill="#4575b4" stroke="#4575b4" stroke-width="0.6" d="M237.9 404.2L240.3 411.7A31.8 31.8 0 0 1 230.5 413.3L230.5 405.3A23.8 23.8 0 0 0 237.9 404.2ZM190.8 381.5L182.8 381.5A47.7 47.7 0 0 1 183.7 372.2L191.5 373.8A39.7 39.7 0 0 0 190.8 381.5ZM254.3 422.8L258.3 429.7A55.6 55.6 0 0 1 249.5 433.8L246.8 426.3A47.7 47.7 0 0 0 254.3 422.8ZM185.7 365.2L178.2 362.5A55.6 55.6 0 0 1 182.3 353.7L189.2 357.7A47.7 47.7 0 0 0 185.7 365.2ZM277.3 351.4L284.0 347.1A63.6 63.6 0 0 1 288.3 355.1L281.1 358.4A55.6 55.6 0 0 0 277.3 351.4ZM285.5 389.4L293.4 390.5A63.6 63.6 0 0 1 291.5 399.4L283.9 397.2A55.6 55.6 0 0 0 285.5 389.4ZM194.1 423.5L188.9 429.5A63.6 63.6 0 0 1 182.5 423.1L188.5 417.9A55.6 55.6 0 0 0 194.1 423.5ZM188.5 345.1L182.5 339.9A63.6 63.6 0 0 1 188.9 333.5L194.1 339.5A55.6 55.6 0 0 0 188.5 345.1ZM246.9 320.1L249.0 312.4A71.5 71.5 0 0 1 257.9 315.4L254.8 322.8A63.6 63.6 0 0 0 246.9 320.1ZM285.5 349.7L292.4 345.8A71.5 71.5 0 0 1 296.6 354.1L289.2 357.2A63.6 63.6 0 0 0 285.5 349.7ZM293.5 389.8L301.4 390.8A71.5 71.5 0 0 1 299.6 400.0L291.9 397.9A63.6 63.6 0 0 0 293.5 389.8ZM291.9 397.9L299.6 400.0A71.5 71.5 0 0 1 296.6 408.9L289.2 405.8A63.6 63.6 0 0 0 291.9 397.9ZM191.8 431.9L187.0 438.2A71.5 71.5 0 0 1 179.9 432.1L185.6 426.4A63.6 63.6 0 0 0 191.8 431.9ZM180.1 420.2L173.8 425.0A71.5 71.5 0 0 1 168.6 417.2L175.5 413.3A63.6 63.6 0 0 0 180.1 420.2ZM286.4 336.9L292.6 332.0A79.4 79.4 0 0 1 297.8 339.2L291.0 343.5A71.5 71.5 0 0 0 286.4 336.9ZM294.9 350.5L302.1 347.0A79.4 79.4 0 0 1 305.5 355.3L298.0 357.9A71.5 71.5 0 0 0 294.9 350.5ZM275.1 437.4L280.0 443.6A79.4 79.4 0 0 1 272.8 448.8L268.5 442.0A71.5 71.5 0 0 0 275.1 437.4ZM255.0 305.9L257.5 298.4A87.4 87.4 0 0 1 266.0 301.7L262.8 308.9A79.4 79.4 0 0 0 255.0 305.9ZM299.3 341.8L306.2 337.8A87.4 87.4 0 0 1 310.3 346.0L303.1 349.2A79.4 79.4 0 0 0 299.3 341.8ZM303.1 349.2L310.3 346.0A87.4 87.4 0 0 1 313.6 354.5L306.1 357.0A79.4 79.4 0 0 0 303.1 349.2ZM157.9 413.8L150.7 417.0A87.4 87.4 0 0 1 147.4 408.5L154.9 406.0A79.4 79.4 0 0 0 157.9 413.8ZM308.7 342.5L315.8 339.0A95.3 95.3 0 0 1 319.4 347.1L312.0 349.9A87.4 87.4 0 0 0 308.7 342.5ZM295.1 440.4L301.0 445.7A95.3 95.3 0 0 1 294.7 452.0L289.4 446.1A87.4 87.4 0 0 0 295.1 440.4ZM149.0 413.1L141.6 415.9A95.3 95.3 0 0 1 138.8 407.6L146.4 405.4A87.4 87.4 0 0 0 149.0 413.1ZM144.6 397.6L136.8 399.0A95.3 95.3 0 0 1 135.6 390.3L143.5 389.6A87.4 87.4 0 0 0 144.6 397.6ZM316.9 341.2L324.1 337.9A103.3 103.3 0 0 1 327.5 346.2L320.1 348.9A95.3 95.3 0 0 0 316.9 341.2ZM320.1 348.9L327.5 346.2A103.3 103.3 0 0 1 330.3 354.8L322.6 356.8A95.3 95.3 0 0 0 320.1 348.9ZM140.9 414.1L133.5 416.8A103.3 103.3 0 0 1 130.7 408.2L138.4 406.2A95.3 95.3 0 0 0 140.9 414.1ZM138.4 406.2L130.7 408.2A103.3 103.3 0 0 1 128.8 399.4L136.6 398.1A95.3 95.3 0 0 0 138.4 406.2ZM175.8 303.4L171.3 296.9A103.3 103.3 0 0 1 178.9 292.1L182.8 298.9A95.3 95.3 0 0 0 175.8 303.4ZM274.1 287.9L277.5 280.7A111.2 111.2 0 0 1 286.1 285.2L282.1 292.1A103.3 103.3 0 0 0 274.1 287.9ZM282.1 292.1L286.1 285.2A111.2 111.2 0 0 1 294.3 290.4L289.7 296.9A103.3 103.3 0 0 0 282.1 292.1ZM319.9 329.9L326.8 325.9A111.2 111.2 0 0 1 331.3 334.5L324.1 337.9A103.3 103.3 0 0 0 319.9 329.9ZM324.1 337.9L331.3 334.5A111.2 111.2 0 0 1 335.0 343.5L327.5 346.2A103.3 103.3 0 0 0 324.1 337.9ZM327.5 346.2L335.0 343.5A111.2 111.2 0 0 1 337.9 352.7L330.3 354.8A103.3 103.3 0 0 0 327.5 346.2ZM330.3 354.8L337.9 352.7A111.2 111.2 0 0 1 340.0 362.2L332.2 363.6A103.3 103.3 0 0 0 330.3 354.8ZM303.5 454.5L309.1 460.1A111.2 111.2 0 0 1 302.0 466.7L296.9 460.6A103.3 103.3 0 0 0 303.5 454.5ZM141.1 329.9L134.2 325.9A111.2 111.2 0 0 1 139.4 317.7L145.9 322.3A103.3 103.3 0 0 0 141.1 329.9ZM277.5 280.7L280.9 273.5A119.2 119.2 0 0 1 290.1 278.3L286.1 285.2A111.2 111.2 0 0 0 277.5 280.7ZM286.1 285.2L290.1 278.3A119.2 119.2 0 0 1 298.9 283.9L294.3 290.4A111.2 111.2 0 0 0 286.1 285.2ZM294.3 290.4L298.9 283.9A119.2 119.2 0 0 1 307.1 290.2L302.0 296.3A111.2 111.2 0 0 0 294.3 290.4ZM337.9 352.7L345.6 350.7A119.2 119.2 0 0 1 347.9 360.8L340.0 362.2A111.2 111.2 0 0 0 337.9 352.7ZM220.8 492.3L220.1 500.2A119.2 119.2 0 0 1 209.8 498.9L211.2 491.0A111.2 111.2 0 0 0 220.8 492.3ZM211.2 272.0L209.8 264.1A119.2 119.2 0 0 1 220.1 262.8L220.8 270.7A111.2 111.2 0 0 0 211.2 272.0ZM307.1 290.2L312.2 284.1A127.1 127.1 0 0 1 320.4 291.6L314.8 297.2A119.2 119.2 0 0 0 307.1 290.2ZM314.8 465.8L320.4 471.4A127.1 127.1 0 0 1 312.2 478.9L307.1 472.8A119.2 119.2 0 0 0 314.8 465.8ZM345.7 327.8L352.9 324.4A135.1 135.1 0 0 1 357.4 335.3L349.9 338.0A127.1 127.1 0 0 0 345.7 327.8ZM197.6 504.3L195.5 512.0A135.1 135.1 0 0 1 184.3 508.4L187.0 500.9A127.1 127.1 0 0 0 197.6 504.3ZM105.3 403.6L97.5 405.0A135.1 135.1 0 0 1 96.0 393.3L103.9 392.6A127.1 127.1 0 0 0 105.3 403.6ZM352.9 324.4L360.1 321.1A143.0 143.0 0 0 1 364.9 332.6L357.4 335.3A135.1 135.1 0 0 0 352.9 324.4ZM363.5 358.0L371.3 356.7A143.0 143.0 0 0 1 373.0 369.0L365.0 369.7A135.1 135.1 0 0 0 363.5 358.0ZM365.0 369.7L373.0 369.0A143.0 143.0 0 0 1 373.5 381.5L365.6 381.5A135.1 135.1 0 0 0 365.0 369.7ZM207.0 514.5L205.7 522.3A143.0 143.0 0 0 1 193.5 519.6L195.5 512.0A135.1 135.1 0 0 0 207.0 514.5ZM195.5 512.0L193.5 519.6A143.0 143.0 0 0 1 181.6 515.9L184.3 508.4A135.1 135.1 0 0 0 195.5 512.0ZM163.0 498.5L159.0 505.3A143.0 143.0 0 0 1 148.5 498.6L153.0 492.1A135.1 135.1 0 0 0 163.0 498.5Z"/>
<path fill="#fec778" stroke="#fec778" stroke-width="0.6" d="M293.5 373.2L301.4 372.2A71.5 71.5 0 0 1 302.0 381.5L294.1 381.5A63.6 63.6 0 0 0 293.5 373.2ZM309.5 373.2L317.4 372.4A87.4 87.4 0 0 1 317.9 381.5L309.9 381.5A79.4 79.4 0 0 0 309.5 373.2ZM191.5 459.7L188.0 466.8A95.3 95.3 0 0 1 180.3 462.6L184.5 455.8A87.4 87.4 0 0 0 191.5 459.7ZM190.2 467.9L186.9 475.1A103.3 103.3 0 0 1 178.9 470.9L182.8 464.1A95.3 95.3 0 0 0 190.2 467.9Z"/>
<path fill="#fdae61" stroke="#fdae61" stroke-width="0.6" d="M301.6 373.5L309.4 372.6A79.4 79.4 0 0 1 309.9 381.5L302.0 381.5A71.5 71.5 0 0 0 301.6 373.5Z"/>
<path fill="#fed98c" d="M290.2 366.6L297.6 364.8A69.2 69.2 0 0 1 299.7 381.5L292.0 381.5A61.5 61.5 0 0 0 290.2 366.6Z"/>
<path fill="#fdb46a" d="M297.6 364.8L305.1 362.9A76.9 76.9 0 0 1 307.4 381.5L299.7 381.5A69.2 69.2 0 0 0 297.6 364.8Z"/>
<path fill="#fdae61" d="M305.1 362.9L312.6 361.0A84.6 84.6 0 0 1 315.1 381.5L307.4 381.5A76.9 76.9 0 0 0 305.1 362.9Z"/>
<path fill="#fed98c" d="M314.5 371.2L323.7 370.1A93.9 93.9 0 0 1 324.4 381.5L315.1 381.5A84.6 84.6 0 0 0 314.5 371.2Z"/>
<path fill="#f9e6ae" d="M311.8 358.2L320.8 355.6A93.9 93.9 0 0 1 323.7 370.1L314.5 371.2A84.6 84.6 0 0 0 311.8 358.2Z"/>
<path fill="#d8eef6" d="M321.2 357.2L328.1 355.4A101.0 101.0 0 0 1 331.5 381.5L324.4 381.5A93.9 93.9 0 0 0 321.2 357.2Z"/>
</g>
<path d="M230.5 381.5L230.5 238.5M230.5 381.5L331.6 280.4M230.5 381.5L373.5 381.5M230.5 381.5L331.6 482.6M230.5 381.5L230.5 524.5M230.5 381.5L129.4 482.6M230.5 381.5L87.5 381.5M230.5 381.5L129.4 280.4" stroke="#fffaaa" stroke-width="1.1" fill="none"/>
<circle cx="230.5" cy="381.5" r="47.7" stroke="#fffaaa" stroke-width="1.1" fill="none"/>
<circle cx="230.5" cy="381.5" r="95.3" stroke="#fffaaa" stroke-width="1.1" fill="none"/>
<circle cx="230.5" cy="381.5" r="143.0" stroke="#fffaaa" stroke-width="1.1" fill="none"/>
<path d="M227.1 263.4h7M230.6 259.9v7M199.0 276.5h7M202.5 273.0v7M209.0 281.5h7M212.5 278.0v7M147.7 284.7h7M151.2 281.2v7M161.8 293.1h7M165.3 289.6v7M158.5 310.0h7M162.0 306.5v7M172.9 316.4h7M176.4 312.9v7M188.9 313.4h7M192.4 309.9v7M157.9 324.6h7M161.4 321.1v7M214.9 305.6h7M218.4 302.1v7M223.0 307.5h7M226.5 304.0v7M237.0 298.5h7M240.5 295.0v7M254.5 308.4h7M258.0 304.9v7M255.1 308.6h7M258.6 305.1v7M296.2 277.8h7M299.7 274.3v7M279.9 329.6h7M283.4 326.1v7M109.8 328.5h7M113.3 325.0v7M121.8 328.5h7M125.3 325.0v7M120.5 336.3h7M124.0 332.8v7M123.0 336.5h7M126.5 333.0v7M109.0 343.0h7M112.5 339.5v7M105.8 352.1h7M109.3 348.6v7M118.8 353.6h7M122.3 350.1v7M131.1 363.3h7M134.6 359.8v7M172.8 351.3h7M176.3 347.8v7M203.2 360.9h7M206.7 357.4v7M227.0 353.7h7M230.5 350.2v7M257.1 348.9h7M260.6 345.4v7M270.1 351.6h7M273.6 348.1v7M287.0 354.5h7M290.5 351.0v7M285.7 365.6h7M289.2 362.1v7M286.3 365.8h7M289.8 362.3v7M207.1 381.0h7M210.6 377.5v7M188.2 395.1h7M191.7 391.6v7M212.3 397.0h7M215.8 393.5v7M260.1 391.0h7M263.6 387.5v7M224.0 405.5h7M227.5 402.0v7M234.0 405.7h7M237.5 402.2v7M218.0 416.2h7M221.5 412.7v7M230.1 416.8h7M233.6 413.3v7M224.8 435.4h7M228.3 431.9v7M274.1 407.6h7M277.6 404.1v7M298.8 391.0h7M302.3 387.5v7M303.3 392.3h7M306.8 388.8v7M313.1 394.9h7M316.6 391.4v7M173.1 410.9h7M176.6 407.4v7M153.2 421.4h7M156.7 417.9v7M140.5 427.6h7M144.0 424.1v7M133.3 436.5h7M136.8 433.0v7M136.0 440.5h7M139.5 437.0v7M143.1 447.4h7M146.6 443.9v7M111.0 446.7h7M114.5 443.2v7M137.9 470.5h7M141.4 467.0v7M191.9 441.7h7M195.4 438.2v7M315.3 430.9h7M318.8 427.4v7M320.1 439.3h7M323.6 435.8v7M283.2 441.9h7M286.7 438.4v7M295.4 440.0h7M298.9 436.5v7M299.7 452.1h7M303.2 448.6v7M300.1 452.3h7M303.6 448.8v7M307.9 459.6h7M311.4 456.1v7M317.0 468.4h7M320.5 464.9v7" stroke="#00ff00" stroke-width="1.2" fill="none"/>
<text class="s" transform="translate(232.2 255.6) scale(1.07 1)" text-anchor="middle">R03</text>
<text class="s" transform="translate(202.5 268.7) scale(1.07 1)" text-anchor="middle">J196</text>
<text class="s" transform="translate(214.1 273.7) scale(1.07 1)" text-anchor="middle">C19</text>
<text class="s" transform="translate(152.8 276.9) scale(1.07 1)" text-anchor="middle">C13</text>
<text class="s" transform="translate(166.9 285.3) scale(1.07 1)" text-anchor="middle">C08</text>
<text class="s" transform="translate(163.6 302.2) scale(1.07 1)" text-anchor="middle">G10</text>
<text class="s" transform="translate(178.0 308.6) scale(1.07 1)" text-anchor="middle">C38</text>
<text class="s" transform="translate(192.4 305.6) scale(1.07 1)" text-anchor="middle">J199</text>
<text class="s" transform="translate(163.0 316.8) scale(1.07 1)" text-anchor="middle">C03</text>
<text class="s" transform="translate(220.0 297.8) scale(1.07 1)" text-anchor="middle">C50</text>
<text class="s" transform="translate(228.1 299.7) scale(1.07 1)" text-anchor="middle">C01</text>
<text class="s" transform="translate(242.1 290.7) scale(1.07 1)" text-anchor="middle">C48</text>
<text class="s" transform="translate(259.6 300.6) scale(1.07 1)" text-anchor="middle">C62</text>
<text class="s" transform="translate(260.2 300.8) scale(1.07 1)" text-anchor="middle">C02</text>
<text class="s" transform="translate(301.3 270.0) scale(1.07 1)" text-anchor="middle">C58</text>
<text class="s" transform="translate(285.0 321.8) scale(1.07 1)" text-anchor="middle">G29</text>
<text class="s" transform="translate(114.9 320.7) scale(1.07 1)" text-anchor="middle">C45</text>
<text class="s" transform="translate(126.9 320.7) scale(1.07 1)" text-anchor="middle">C56</text>
<text class="s" transform="translate(124.0 328.5) scale(1.07 1)" text-anchor="middle">J002</text>
<text class="s" transform="translate(128.1 328.7) scale(1.07 1)" text-anchor="middle">E09</text>
<text class="s" transform="translate(114.1 335.2) scale(1.07 1)" text-anchor="middle">C07</text>
<text class="s" transform="translate(110.9 344.3) scale(1.07 1)" text-anchor="middle">C60</text>
<text class="s" transform="translate(122.3 345.8) scale(1.07 1)" text-anchor="middle">J194</text>
<text class="s" transform="translate(136.2 355.5) scale(1.07 1)" text-anchor="middle">G26</text>
<text class="s" transform="translate(177.9 343.5) scale(1.07 1)" text-anchor="middle">G14</text>
<text class="s" transform="translate(208.3 353.1) scale(1.07 1)" text-anchor="middle">G23</text>
<text class="s" transform="translate(232.1 345.9) scale(1.07 1)" text-anchor="middle">E33</text>
<text class="s" transform="translate(262.2 341.1) scale(1.07 1)" text-anchor="middle">C20</text>
<text class="s" transform="translate(275.2 343.8) scale(1.07 1)" text-anchor="middle">R02</text>
<text class="s" transform="translate(292.1 346.7) scale(1.07 1)" text-anchor="middle">E27</text>
<text class="s" transform="translate(290.8 357.8) scale(1.07 1)" text-anchor="middle">C44</text>
<text class="s" transform="translate(291.4 358.0) scale(1.07 1)" text-anchor="middle">C14</text>
<text class="s" transform="translate(210.6 373.2) scale(1.07 1)" text-anchor="middle">J195</text>
<text class="s" transform="translate(193.3 387.3) scale(1.07 1)" text-anchor="middle">C07</text>
<text class="s" transform="translate(217.4 389.2) scale(1.07 1)" text-anchor="middle">C40</text>
<text class="s" transform="translate(265.2 383.2) scale(1.07 1)" text-anchor="middle">C47</text>
<text class="s" transform="translate(229.1 397.7) scale(1.07 1)" text-anchor="middle">C39</text>
<text class="s" transform="translate(239.1 397.9) scale(1.07 1)" text-anchor="middle">E21</text>
<text class="s" transform="translate(223.1 408.4) scale(1.07 1)" text-anchor="middle">E04</text>
<text class="s" transform="translate(235.2 409.0) scale(1.07 1)" text-anchor="middle">G18</text>
<text class="s" transform="translate(229.9 427.6) scale(1.07 1)" text-anchor="middle">R17</text>
<text class="s" transform="translate(279.2 399.8) scale(1.07 1)" text-anchor="middle">E26</text>
<text class="s" transform="translate(303.9 383.2) scale(1.07 1)" text-anchor="middle">G15</text>
<text class="s" transform="translate(308.4 384.5) scale(1.07 1)" text-anchor="middle">G12</text>
<text class="s" transform="translate(318.2 387.1) scale(1.07 1)" text-anchor="middle">R24</text>
<text class="s" transform="translate(178.2 403.1) scale(1.07 1)" text-anchor="middle">C10</text>
<text class="s" transform="translate(158.3 413.6) scale(1.07 1)" text-anchor="middle">G22</text>
<text class="s" transform="translate(145.6 419.8) scale(1.07 1)" text-anchor="middle">G16</text>
<text class="s" transform="translate(138.4 428.7) scale(1.07 1)" text-anchor="middle">R16</text>
<text class="s" transform="translate(141.1 432.7) scale(1.07 1)" text-anchor="middle">C36</text>
<text class="s" transform="translate(148.2 439.6) scale(1.07 1)" text-anchor="middle">R18</text>
<text class="s" transform="translate(116.1 438.9) scale(1.07 1)" text-anchor="middle">C26</text>
<text class="s" transform="translate(143.0 462.7) scale(1.07 1)" text-anchor="middle">G27</text>
<text class="s" transform="translate(197.0 433.9) scale(1.07 1)" text-anchor="middle">E23</text>
<text class="s" transform="translate(320.4 423.1) scale(1.07 1)" text-anchor="middle">G20</text>
<text class="s" transform="translate(325.2 431.5) scale(1.07 1)" text-anchor="middle">G13</text>
<text class="s" transform="translate(288.3 434.1) scale(1.07 1)" text-anchor="middle">R06</text>
<text class="s" transform="translate(300.5 432.2) scale(1.07 1)" text-anchor="middle">C32</text>
<text class="s" transform="translate(304.8 444.3) scale(1.07 1)" text-anchor="middle">C52</text>
<text class="s" transform="translate(305.2 444.5) scale(1.07 1)" text-anchor="middle">E52</text>
<text class="s" transform="translate(313.0 451.8) scale(1.07 1)" text-anchor="middle">E13</text>
<text class="s" transform="translate(322.1 460.6) scale(1.07 1)" text-anchor="middle">G05</text>
<path d="M230.5 381.3L311 374.3" stroke="#ffa500" stroke-width="1.3" fill="none"/>
<path d="M307.4 365.5L308.5 364.3L312.5 364.3L314.5 368L316 373L316.4 377L315 381L312 383.4L309.8 383.4L309.2 378L308.2 371Z" fill="#ffa500"/>
</g>
<g id="wf">
<text x="721.5" y="190" text-anchor="middle">Waterfall Plot</text>
<path class="la" d="M510.3 465.6L780.2 512.6L933.3 431.1L663.4 384.1ZM510.3 300.3V465.6M510.3 300.3h8M510.3 327.9h8M510.3 355.4h8M510.3 383.0h8M510.3 410.5h8M510.3 438.1h8M510.3 465.6h8M780.2 512.6l-6.9 -1.2M510.3 465.6l6.9 1.2M802.1 501.0l-6.9 -1.2M532.2 454.0l6.9 1.2M823.9 489.3l-6.9 -1.2M554.0 442.3l6.9 1.2M845.8 477.7l-6.9 -1.2M575.9 430.7l6.9 1.2M867.7 466.0l-6.9 -1.2M597.8 419.0l6.9 1.2M889.6 454.4l-6.9 -1.2M619.7 407.4l6.9 1.2M911.4 442.7l-6.9 -1.2M641.5 395.7l6.9 1.2M933.3 431.1l-6.9 -1.2M663.4 384.1l6.9 1.2M510.3 465.6l6.2 -3.3M663.4 384.1l-6.2 3.3M600.3 481.3l6.2 -3.3M753.4 399.8l-6.2 3.3M690.2 496.9l6.2 -3.3M843.3 415.4l-6.2 3.3M780.2 512.6l6.2 -3.3M933.3 431.1l-6.2 3.3"/>
<text x="497.5" y="304.5" text-anchor="end">0</text>
<text x="497.5" y="332.1" text-anchor="end">-20</text>
<text x="497.5" y="359.6" text-anchor="end">-40</text>
<text x="497.5" y="387.2" text-anchor="end">-60</text>
<text x="497.5" y="414.7" text-anchor="end">-80</text>
<text x="497.5" y="442.2" text-anchor="end">-100</text>
<text x="497.5" y="469.8" text-anchor="end">-120</text>
<text transform="translate(437,381) rotate(-90)" text-anchor="middle">PSD (dBm)</text>
<text x="503.5" y="473.6" text-anchor="middle">20:09:00</text>
<text x="593.5" y="490.3" text-anchor="middle">20:09:20</text>
<text x="682.4" y="505.9" text-anchor="middle">20:09:40</text>
<text x="771.4" y="521.6" text-anchor="middle">20:10:00</text>
<text x="817.5" y="519.6" text-anchor="middle">1210</text>
<text x="839.4" y="508.0" text-anchor="middle">1215</text>
<text x="861.2" y="496.3" text-anchor="middle">1220</text>
<text x="883.1" y="484.7" text-anchor="middle">1225</text>
<text x="905.0" y="473.0" text-anchor="middle">1230</text>
<text x="926.9" y="461.4" text-anchor="middle">1235</text>
<text x="948.7" y="449.7" text-anchor="middle">1240</text>
<text x="970.6" y="438.1" text-anchor="middle">1245</text>
<text transform="translate(598.5,516.5) rotate(9.9)" text-anchor="middle">Time (UTC)</text>
<text transform="translate(933.5,488) rotate(-28)" text-anchor="middle">Frequency (MHz)</text>
<defs><clipPath id="wfc"><path d="M607.0 430.0L609.4 428.4L611.7 426.8L614.1 426.5L615.5 424.8L617.0 421.3L618.5 420.4L619.9 418.3L622.2 416.2L624.6 414.8L624.9 411.3L625.1 410.1L625.4 406.6L625.6 405.2L625.9 402.0L626.1 399.7L626.4 398.2L626.6 396.9L626.9 393.7L627.4 390.6L627.9 388.6L628.4 387.5L629.0 386.2L629.5 383.0L630.0 380.4L630.5 378.5L631.6 377.7L632.8 373.2L634.0 373.3L635.1 370.3L637.1 368.3L639.2 366.4L641.2 364.9L643.3 364.4L645.1 362.5L646.8 362.3L648.6 359.2L650.4 358.6L652.5 357.3L654.5 356.0L656.5 353.8L658.6 352.7L660.9 351.7L663.3 349.2L665.6 348.1L668.0 347.3L670.3 346.9L672.2 345.8L674.2 343.6L676.1 341.7L678.1 340.9L680.0 338.9L682.0 337.5L684.3 336.5L686.7 337.3L689.0 336.6L691.4 334.9L693.7 335.1L695.7 334.1L697.6 332.8L699.5 332.6L701.5 331.0L703.5 328.7L705.4 328.1L707.7 328.2L710.1 324.8L712.4 324.4L714.8 324.1L717.1 322.3L719.4 320.7L721.8 320.8L724.1 318.9L726.5 319.9L728.8 318.7L731.1 319.6L733.5 319.4L735.8 320.4L738.2 319.2L740.5 319.9L742.8 319.6L745.1 318.6L747.4 317.8L749.7 316.7L752.0 316.9L754.3 315.2L756.0 318.1L757.7 318.7L759.4 321.0L761.1 322.3L763.4 321.0L765.8 322.5L768.1 322.2L770.5 322.9L772.8 322.3L775.2 320.7L777.5 321.1L779.5 322.6L781.6 325.0L783.7 325.1L785.7 328.1L788.6 328.0L791.5 328.1L793.9 328.8L796.2 330.2L798.6 332.8L800.9 332.8L803.2 335.8L805.6 335.4L807.9 337.5L808.8 338.9L809.8 341.4L810.7 344.8L811.7 344.8L812.6 348.0L814.9 348.3L817.3 349.1L819.6 350.4L822.0 350.8L824.3 350.4L826.6 351.5L829.0 350.2L831.3 350.7L833.7 350.8L836.0 352.3L838.4 351.5L840.7 353.5L843.1 352.2L845.4 353.9L846.6 355.4L847.8 357.9L848.9 360.2L850.1 363.2L850.6 365.3L851.1 367.8L851.6 369.1L852.1 370.7L852.6 373.9L853.1 376.0L853.6 378.5L856.3 378.3L859.1 378.9L861.8 377.3L864.8 378.4L867.7 378.5L869.8 380.9L871.9 383.2L871.7 385.8L871.4 388.3L871.2 390.2L868.8 396.0L866.5 393.0L864.1 394.2L861.8 391.4L859.5 392.7L857.1 393.3L854.8 392.5L852.5 392.7L850.1 390.6L847.8 390.2L845.4 390.6L843.1 390.5L840.7 392.5L838.4 393.3L836.0 391.9L833.7 393.7L831.4 391.9L829.0 392.0L826.7 392.5L824.7 393.0L822.8 395.1L820.8 397.2L820.1 393.6L819.5 391.3L818.8 389.6L818.1 387.2L817.4 385.9L816.8 382.7L816.1 382.0L813.2 383.2L810.3 382.0L808.0 381.8L805.6 380.8L803.9 381.2L802.1 383.0L800.4 384.7L798.6 386.7L796.6 387.8L794.7 388.6L792.7 391.4L791.0 394.8L789.2 396.0L786.9 396.4L784.5 393.7L782.6 395.6L780.6 397.6L778.7 399.6L776.0 399.0L773.2 399.9L770.5 401.9L768.9 403.4L767.4 405.1L765.8 407.8L764.3 410.6L762.8 410.2L761.4 411.5L759.9 414.8L759.4 418.6L758.9 419.6L758.4 420.7L757.9 424.3L757.4 425.0L756.9 428.9L756.4 431.2L756.1 435.1L755.8 437.0L755.5 438.8L755.2 439.8L755.0 442.5L754.7 444.2L754.4 448.4L754.1 449.9L753.0 452.4L751.9 455.5L750.8 456.4L749.7 459.3L746.4 456.9L744.4 457.2L742.5 460.3L740.5 460.5L738.2 460.9L735.8 459.2L733.5 456.9L731.1 459.1L728.8 459.3L726.9 461.9L724.9 463.2L723.0 464.0L721.5 461.1L720.0 460.0L718.6 457.4L717.1 455.8L714.8 456.0L712.4 459.3L710.1 458.4L707.8 460.5L705.4 458.6L703.1 457.3L700.7 456.9L700.1 455.4L699.5 454.1L699.0 450.3L698.4 449.8L697.8 447.8L697.2 444.1L693.7 446.4L691.4 446.1L689.0 442.9L687.4 444.0L685.9 445.1L684.3 447.6L682.0 448.3L679.6 449.8L677.3 452.3L677.0 449.0L676.7 448.0L676.4 446.5L676.1 444.0L675.9 440.5L675.6 438.7L675.3 436.8L675.0 433.5L674.1 430.1L673.2 429.9L672.3 428.7L671.4 425.3L670.0 428.3L668.5 430.2L667.0 431.4L665.6 433.5L663.2 433.7L660.9 435.9L658.5 438.0L656.2 437.7L653.9 440.3L651.5 440.5L651.2 439.7L650.9 435.5L650.6 433.2L650.4 432.6L650.1 429.5L649.8 425.4L649.5 422.9L649.2 421.8L647.6 422.3L646.1 426.2L644.5 426.5L642.1 428.7L639.8 427.7L637.5 431.1L635.1 431.2L633.1 433.9L631.2 434.0L629.2 434.2L627.3 436.0L625.4 435.9L623.4 438.2L621.4 438.1L619.3 442.7L617.2 443.1L615.2 444.1L614.3 442.1L613.5 441.4L612.6 437.7L611.7 435.9Z"/></clipPath>
<filter id="b7" x="-20%" y="-20%" width="140%" height="140%"><feGaussianBlur stdDeviation="7"/></filter>
<filter id="b4" x="-20%" y="-20%" width="140%" height="140%"><feGaussianBlur stdDeviation="4.5"/></filter></defs>
<g clip-path="url(#wfc)">
<linearGradient id="hg" x1="0" y1="1" x2="0" y2="0"><stop offset="0.000" stop-color="#6aa1cd"/><stop offset="0.118" stop-color="#70a7d0"/><stop offset="0.171" stop-color="#7eb3d7"/><stop offset="0.271" stop-color="#96c5e1"/><stop offset="0.394" stop-color="#b0d5ea"/><stop offset="0.518" stop-color="#d6eaf5"/><stop offset="0.618" stop-color="#e7f2f5"/><stop offset="0.694" stop-color="#f5f5e9"/><stop offset="0.765" stop-color="#faf6e5"/><stop offset="1.000" stop-color="#faf7e8"/></linearGradient>
<rect x="600" y="295.2" width="2.4" height="170" fill="url(#hg)"/>
<rect x="602" y="295.2" width="2.4" height="170" fill="url(#hg)"/>
<rect x="604" y="292.4" width="2.4" height="170" fill="url(#hg)"/>
<rect x="606" y="292.8" width="2.4" height="170" fill="url(#hg)"/>
<rect x="608" y="293.3" width="2.4" height="170" fill="url(#hg)"/>
<rect x="610" y="293.2" width="2.4" height="170" fill="url(#hg)"/>
<rect x="612" y="295.2" width="2.4" height="170" fill="url(#hg)"/>
<rect x="614" y="293.8" width="2.4" height="170" fill="url(#hg)"/>
<rect x="616" y="294.9" width="2.4" height="170" fill="url(#hg)"/>
<rect x="618" y="293.8" width="2.4" height="170" fill="url(#hg)"/>
<rect x="620" y="298.0" width="2.4" height="170" fill="url(#hg)"/>
<rect x="622" y="295.5" width="2.4" height="170" fill="url(#hg)"/>
<rect x="624" y="296.3" width="2.4" height="170" fill="url(#hg)"/>
<rect x="626" y="297.2" width="2.4" height="170" fill="url(#hg)"/>
<rect x="628" y="299.1" width="2.4" height="170" fill="url(#hg)"/>
<rect x="630" y="297.0" width="2.4" height="170" fill="url(#hg)"/>
<rect x="632" y="299.8" width="2.4" height="170" fill="url(#hg)"/>
<rect x="634" y="298.0" width="2.4" height="170" fill="url(#hg)"/>
<rect x="636" y="298.5" width="2.4" height="170" fill="url(#hg)"/>
<rect x="638" y="298.7" width="2.4" height="170" fill="url(#hg)"/>
<rect x="640" y="296.5" width="2.4" height="170" fill="url(#hg)"/>
<rect x="642" y="298.9" width="2.4" height="170" fill="url(#hg)"/>
<rect x="644" y="297.9" width="2.4" height="170" fill="url(#hg)"/>
<rect x="646" y="297.3" width="2.4" height="170" fill="url(#hg)"/>
<rect x="648" y="301.6" width="2.4" height="170" fill="url(#hg)"/>
<rect x="650" y="298.8" width="2.4" height="170" fill="url(#hg)"/>
<rect x="652" y="300.6" width="2.4" height="170" fill="url(#hg)"/>
<rect x="654" y="302.1" width="2.4" height="170" fill="url(#hg)"/>
<rect x="656" y="301.6" width="2.4" height="170" fill="url(#hg)"/>
<rect x="658" y="300.7" width="2.4" height="170" fill="url(#hg)"/>
<rect x="660" y="302.0" width="2.4" height="170" fill="url(#hg)"/>
<rect x="662" y="302.5" width="2.4" height="170" fill="url(#hg)"/>
<rect x="664" y="303.9" width="2.4" height="170" fill="url(#hg)"/>
<rect x="666" y="300.8" width="2.4" height="170" fill="url(#hg)"/>
<rect x="668" y="303.4" width="2.4" height="170" fill="url(#hg)"/>
<rect x="670" y="302.1" width="2.4" height="170" fill="url(#hg)"/>
<rect x="672" y="302.6" width="2.4" height="170" fill="url(#hg)"/>
<rect x="674" y="305.4" width="2.4" height="170" fill="url(#hg)"/>
<rect x="676" y="304.3" width="2.4" height="170" fill="url(#hg)"/>
<rect x="678" y="304.9" width="2.4" height="170" fill="url(#hg)"/>
<rect x="680" y="306.2" width="2.4" height="170" fill="url(#hg)"/>
<rect x="682" y="307.3" width="2.4" height="170" fill="url(#hg)"/>
<rect x="684" y="305.2" width="2.4" height="170" fill="url(#hg)"/>
<rect x="686" y="306.4" width="2.4" height="170" fill="url(#hg)"/>
<rect x="688" y="306.1" width="2.4" height="170" fill="url(#hg)"/>
<rect x="690" y="306.5" width="2.4" height="170" fill="url(#hg)"/>
<rect x="692" y="307.7" width="2.4" height="170" fill="url(#hg)"/>
<rect x="694" y="306.8" width="2.4" height="170" fill="url(#hg)"/>
<rect x="696" y="307.5" width="2.4" height="170" fill="url(#hg)"/>
<rect x="698" y="307.5" width="2.4" height="170" fill="url(#hg)"/>
<rect x="700" y="310.1" width="2.4" height="170" fill="url(#hg)"/>
<rect x="702" y="309.2" width="2.4" height="170" fill="url(#hg)"/>
<rect x="704" y="310.4" width="2.4" height="170" fill="url(#hg)"/>
<rect x="706" y="311.0" width="2.4" height="170" fill="url(#hg)"/>
<rect x="708" y="307.9" width="2.4" height="170" fill="url(#hg)"/>
<rect x="710" y="309.7" width="2.4" height="170" fill="url(#hg)"/>
<rect x="712" y="311.9" width="2.4" height="170" fill="url(#hg)"/>
<rect x="714" y="311.7" width="2.4" height="170" fill="url(#hg)"/>
<rect x="716" y="308.5" width="2.4" height="170" fill="url(#hg)"/>
<rect x="718" y="308.7" width="2.4" height="170" fill="url(#hg)"/>
<rect x="720" y="310.6" width="2.4" height="170" fill="url(#hg)"/>
<rect x="722" y="309.1" width="2.4" height="170" fill="url(#hg)"/>
<rect x="724" y="310.2" width="2.4" height="170" fill="url(#hg)"/>
<rect x="726" y="309.7" width="2.4" height="170" fill="url(#hg)"/>
<rect x="728" y="312.9" width="2.4" height="170" fill="url(#hg)"/>
<rect x="730" y="313.8" width="2.4" height="170" fill="url(#hg)"/>
<rect x="732" y="314.7" width="2.4" height="170" fill="url(#hg)"/>
<rect x="734" y="311.3" width="2.4" height="170" fill="url(#hg)"/>
<rect x="736" y="314.5" width="2.4" height="170" fill="url(#hg)"/>
<rect x="738" y="314.7" width="2.4" height="170" fill="url(#hg)"/>
<rect x="740" y="312.6" width="2.4" height="170" fill="url(#hg)"/>
<rect x="742" y="316.7" width="2.4" height="170" fill="url(#hg)"/>
<rect x="744" y="317.6" width="2.4" height="170" fill="url(#hg)"/>
<rect x="746" y="314.3" width="2.4" height="170" fill="url(#hg)"/>
<rect x="748" y="318.4" width="2.4" height="170" fill="url(#hg)"/>
<rect x="750" y="316.1" width="2.4" height="170" fill="url(#hg)"/>
<rect x="752" y="317.0" width="2.4" height="170" fill="url(#hg)"/>
<rect x="754" y="320.0" width="2.4" height="170" fill="url(#hg)"/>
<rect x="756" y="319.7" width="2.4" height="170" fill="url(#hg)"/>
<rect x="758" y="316.0" width="2.4" height="170" fill="url(#hg)"/>
<rect x="760" y="317.0" width="2.4" height="170" fill="url(#hg)"/>
<rect x="762" y="317.2" width="2.4" height="170" fill="url(#hg)"/>
<rect x="764" y="316.0" width="2.4" height="170" fill="url(#hg)"/>
<rect x="766" y="314.9" width="2.4" height="170" fill="url(#hg)"/>
<rect x="768" y="315.2" width="2.4" height="170" fill="url(#hg)"/>
<rect x="770" y="316.4" width="2.4" height="170" fill="url(#hg)"/>
<rect x="772" y="311.3" width="2.4" height="170" fill="url(#hg)"/>
<rect x="774" y="312.5" width="2.4" height="170" fill="url(#hg)"/>
<rect x="776" y="310.5" width="2.4" height="170" fill="url(#hg)"/>
<rect x="778" y="306.8" width="2.4" height="170" fill="url(#hg)"/>
<rect x="780" y="306.9" width="2.4" height="170" fill="url(#hg)"/>
<rect x="782" y="306.9" width="2.4" height="170" fill="url(#hg)"/>
<rect x="784" y="304.8" width="2.4" height="170" fill="url(#hg)"/>
<rect x="786" y="301.1" width="2.4" height="170" fill="url(#hg)"/>
<rect x="788" y="304.2" width="2.4" height="170" fill="url(#hg)"/>
<rect x="790" y="300.7" width="2.4" height="170" fill="url(#hg)"/>
<rect x="792" y="298.2" width="2.4" height="170" fill="url(#hg)"/>
<rect x="794" y="290.4" width="2.4" height="170" fill="url(#hg)"/>
<rect x="796" y="287.8" width="2.4" height="170" fill="url(#hg)"/>
<rect x="798" y="283.2" width="2.4" height="170" fill="url(#hg)"/>
<rect x="800" y="283.5" width="2.4" height="170" fill="url(#hg)"/>
<rect x="802" y="277.5" width="2.4" height="170" fill="url(#hg)"/>
<rect x="804" y="273.3" width="2.4" height="170" fill="url(#hg)"/>
<rect x="806" y="271.4" width="2.4" height="170" fill="url(#hg)"/>
<rect x="808" y="270.4" width="2.4" height="170" fill="url(#hg)"/>
<rect x="810" y="266.5" width="2.4" height="170" fill="url(#hg)"/>
<rect x="812" y="260.2" width="2.4" height="170" fill="url(#hg)"/>
<rect x="814" y="256.2" width="2.4" height="170" fill="url(#hg)"/>
<rect x="816" y="260.0" width="2.4" height="170" fill="url(#hg)"/>
<rect x="818" y="258.1" width="2.4" height="170" fill="url(#hg)"/>
<rect x="820" y="258.6" width="2.4" height="170" fill="url(#hg)"/>
<rect x="822" y="255.5" width="2.4" height="170" fill="url(#hg)"/>
<rect x="824" y="255.2" width="2.4" height="170" fill="url(#hg)"/>
<rect x="826" y="258.2" width="2.4" height="170" fill="url(#hg)"/>
<rect x="828" y="256.8" width="2.4" height="170" fill="url(#hg)"/>
<rect x="830" y="254.9" width="2.4" height="170" fill="url(#hg)"/>
<rect x="832" y="259.1" width="2.4" height="170" fill="url(#hg)"/>
<rect x="834" y="257.4" width="2.4" height="170" fill="url(#hg)"/>
<rect x="836" y="258.2" width="2.4" height="170" fill="url(#hg)"/>
<rect x="838" y="254.4" width="2.4" height="170" fill="url(#hg)"/>
<rect x="840" y="258.2" width="2.4" height="170" fill="url(#hg)"/>
<rect x="842" y="254.1" width="2.4" height="170" fill="url(#hg)"/>
<rect x="844" y="258.0" width="2.4" height="170" fill="url(#hg)"/>
<rect x="846" y="255.8" width="2.4" height="170" fill="url(#hg)"/>
<rect x="848" y="255.1" width="2.4" height="170" fill="url(#hg)"/>
<rect x="850" y="256.0" width="2.4" height="170" fill="url(#hg)"/>
<rect x="852" y="257.8" width="2.4" height="170" fill="url(#hg)"/>
<rect x="854" y="254.4" width="2.4" height="170" fill="url(#hg)"/>
<rect x="856" y="253.6" width="2.4" height="170" fill="url(#hg)"/>
<rect x="858" y="255.4" width="2.4" height="170" fill="url(#hg)"/>
<rect x="860" y="253.9" width="2.4" height="170" fill="url(#hg)"/>
<rect x="862" y="253.1" width="2.4" height="170" fill="url(#hg)"/>
<rect x="864" y="253.2" width="2.4" height="170" fill="url(#hg)"/>
<rect x="866" y="252.6" width="2.4" height="170" fill="url(#hg)"/>
<rect x="868" y="253.2" width="2.4" height="170" fill="url(#hg)"/>
<rect x="870" y="253.6" width="2.4" height="170" fill="url(#hg)"/>
<rect x="872" y="253.5" width="2.4" height="170" fill="url(#hg)"/>
<rect x="874" y="255.6" width="2.4" height="170" fill="url(#hg)"/>
</g>
<path d="M651.5 313.6L786.5 242.3L786.5 406L651.5 479.2Z" stroke="#ff0000" stroke-width="1" fill="none"/>
</g>
<g id="pw">
<text x="539" y="604.5" text-anchor="middle">Max Rx Power</text>
<text x="538" y="758.5" text-anchor="middle">Time (UTC)</text>
<text transform="translate(19,669) rotate(-90)" text-anchor="middle">Power (dBm)</text>
<text x="76.5" y="667" text-anchor="end">-100</text>
<text x="76.5" y="717" text-anchor="end">-120</text>
<text x="88" y="734.5" text-anchor="middle">20:09:00</text>
<text x="389" y="734.5" text-anchor="middle">20:09:20</text>
<text x="689.5" y="734.5" text-anchor="middle">20:09:40</text>
<text x="990.5" y="734.5" text-anchor="middle">20:10:00</text>
<path d="M96.5 663.5H982" stroke="#c8c8c8" stroke-width="1" stroke-dasharray="2 2" shape-rendering="crispEdges" fill="none"/>
<path d="M389.5 626V713M689.5 626V713" stroke="#d8d8d8" stroke-width="1" stroke-dasharray="2 2" shape-rendering="crispEdges" fill="none"/>
<path class="ln" d="M88 663.5H96M982 663.5H990"/>
<polyline points="403.7,692.5 418.7,691.4 433.7,691.4 449.8,691.4 464.2,677.5 478.8,665.5 494.3,652.5 509.4,651.5 524,655.5 539,661 554,671.5 569,687" fill="none" stroke="#ffff00" stroke-width="1"/>
<polyline points="599,687 614,683 629,684 644,691" fill="none" stroke="#ffff00" stroke-width="1"/>
<path d="M509.5 626V713" stroke="#ff0000" stroke-width="1" shape-rendering="crispEdges"/>
<rect class="ln" x="88.5" y="626.5" width="902" height="87"/>
</g>
</svg></body></html>
